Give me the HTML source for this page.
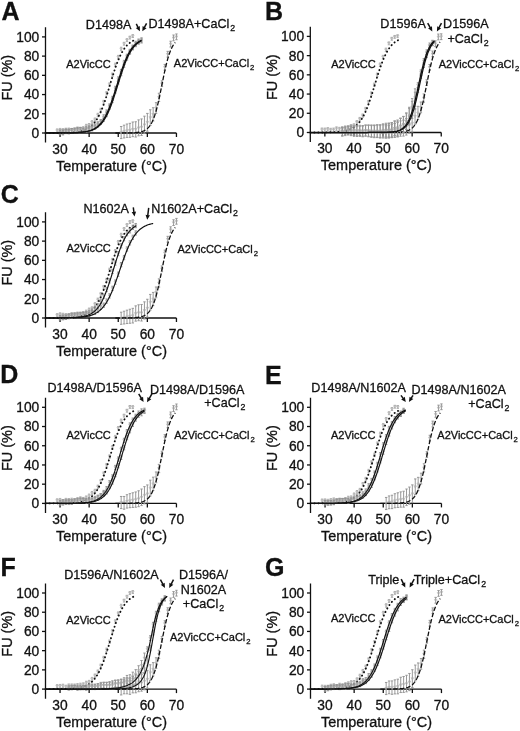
<!DOCTYPE html>
<html><head><meta charset="utf-8"><style>
html,body{margin:0;padding:0;background:#fff;}
svg{display:block;will-change:transform;filter:blur(0.3px);}
text{font-family:"Liberation Sans", sans-serif;fill:#111;stroke:#111;stroke-width:0.3px;}
.ax{stroke:#111;stroke-width:1.3;fill:none;}
.tk{font-size:13.8px;}
.al{font-size:14.45px;}
.pl{font-size:25px;font-weight:bold;}
.an{font-size:12.6px;}
.sm{font-size:11px;}
.sub{font-size:0.7em;}
.dot{fill:none;stroke:#111;stroke-width:1.9;stroke-dasharray:0.2 3.8;stroke-linecap:round;}
.dash{fill:none;stroke:#111;stroke-width:1.3;stroke-dasharray:4.5 2;}
.sol{fill:none;stroke:#111;stroke-width:1.15;}
.sol2{fill:none;stroke:#111;stroke-width:1.25;}
.eb{fill:none;stroke:#939393;stroke-width:0.95;}
.ebw{fill:none;stroke:#a8a8a8;stroke-width:0.85;}
.mk{fill:none;stroke:#aaa;stroke-width:0.6;}
.arl{stroke:#111;stroke-width:1.5;fill:none;}
.arh{fill:#111;}
</style></head><body>
<svg width="520" height="731" viewBox="0 0 520 731">
<g transform="translate(0,0)">
<text x="1.5" y="20" class="pl">A</text>
<g transform="translate(0,0)"><path d="M45.5 27.29V142.61M45.5 133.0H176.45" class="ax"/>
<path d="M42.0 133.00H45.5" class="ax"/>
<text x="39.3" y="137.90" class="tk" text-anchor="end">0</text>
<path d="M42.0 113.78H45.5" class="ax"/>
<text x="39.3" y="118.68" class="tk" text-anchor="end">20</text>
<path d="M42.0 94.56H45.5" class="ax"/>
<text x="39.3" y="99.46" class="tk" text-anchor="end">40</text>
<path d="M42.0 75.34H45.5" class="ax"/>
<text x="39.3" y="80.24" class="tk" text-anchor="end">60</text>
<path d="M42.0 56.12H45.5" class="ax"/>
<text x="39.3" y="61.02" class="tk" text-anchor="end">80</text>
<path d="M42.0 36.90H45.5" class="ax"/>
<text x="39.3" y="41.80" class="tk" text-anchor="end">100</text>
<path d="M60.05 133.0V137.0" class="ax"/>
<text x="60.05" y="153.7" class="tk" text-anchor="middle">30</text>
<path d="M89.15 133.0V137.0" class="ax"/>
<text x="89.15" y="153.7" class="tk" text-anchor="middle">40</text>
<path d="M118.25 133.0V137.0" class="ax"/>
<text x="118.25" y="153.7" class="tk" text-anchor="middle">50</text>
<path d="M147.35 133.0V137.0" class="ax"/>
<text x="147.35" y="153.7" class="tk" text-anchor="middle">60</text>
<path d="M176.45 133.0V137.0" class="ax"/>
<text x="176.45" y="153.7" class="tk" text-anchor="middle">70</text>
<text x="111.5" y="170.5" class="al" text-anchor="middle">Temperature (°C)</text>
<text transform="translate(11.8,77.7) rotate(-90)" class="al" text-anchor="middle">FU (%)</text>
<path d="M57.14 128.92V132.38M55.94 128.92h2.4M55.94 132.38h2.4M60.05 128.41V131.87M58.85 128.41h2.4M58.85 131.87h2.4M62.96 128.63V132.09M61.76 128.63h2.4M61.76 132.09h2.4M65.87 128.20V131.66M64.67 128.20h2.4M64.67 131.66h2.4M68.78 128.06V131.52M67.58 128.06h2.4M67.58 131.52h2.4M71.69 128.76V132.22M70.49 128.76h2.4M70.49 132.22h2.4M74.60 128.60V132.06M73.40 128.60h2.4M73.40 132.06h2.4M77.51 126.98V130.44M76.31 126.98h2.4M76.31 130.44h2.4M80.42 127.35V130.81M79.22 127.35h2.4M79.22 130.81h2.4M83.33 126.63V130.08M82.13 126.63h2.4M82.13 130.08h2.4M86.24 124.34V127.80M85.04 124.34h2.4M85.04 127.80h2.4M89.15 123.52V126.98M87.95 123.52h2.4M87.95 126.98h2.4M92.06 120.65V124.11M90.86 120.65h2.4M90.86 124.11h2.4M94.97 117.97V121.43M93.77 117.97h2.4M93.77 121.43h2.4M97.88 113.32V116.78M96.68 113.32h2.4M96.68 116.78h2.4M100.79 108.31V111.77M99.59 108.31h2.4M99.59 111.77h2.4M103.70 100.37V103.83M102.50 100.37h2.4M102.50 103.83h2.4M106.61 91.57V95.03M105.41 91.57h2.4M105.41 95.03h2.4M109.52 82.87V86.33M108.32 82.87h2.4M108.32 86.33h2.4M112.43 73.02V76.48M111.23 73.02h2.4M111.23 76.48h2.4M115.34 63.14V66.60M114.14 63.14h2.4M114.14 66.60h2.4M118.25 55.39V58.85M117.05 55.39h2.4M117.05 58.85h2.4M121.16 47.24V50.70M119.96 47.24h2.4M119.96 50.70h2.4M124.07 42.31V45.19M122.87 42.31h2.4M122.87 45.19h2.4M126.98 38.69V41.57M125.78 38.69h2.4M125.78 41.57h2.4M129.89 36.17V39.06M128.69 36.17h2.4M128.69 39.06h2.4M132.80 34.61V37.49M131.60 34.61h2.4M131.60 37.49h2.4" class="ebw"/><path d="M55.84 129.75h2.6l-1.3 2.2zM58.75 129.24h2.6l-1.3 2.2zM61.66 129.46h2.6l-1.3 2.2zM64.57 129.03h2.6l-1.3 2.2zM67.48 128.89h2.6l-1.3 2.2zM70.39 129.59h2.6l-1.3 2.2zM73.30 129.43h2.6l-1.3 2.2zM76.21 127.81h2.6l-1.3 2.2zM79.12 128.18h2.6l-1.3 2.2zM82.03 127.46h2.6l-1.3 2.2zM84.94 125.17h2.6l-1.3 2.2zM87.85 124.35h2.6l-1.3 2.2zM90.76 121.48h2.6l-1.3 2.2zM93.67 118.80h2.6l-1.3 2.2zM96.58 114.15h2.6l-1.3 2.2zM99.49 109.14h2.6l-1.3 2.2zM102.40 101.20h2.6l-1.3 2.2zM105.31 92.40h2.6l-1.3 2.2zM108.22 83.70h2.6l-1.3 2.2zM111.13 73.85h2.6l-1.3 2.2zM114.04 63.97h2.6l-1.3 2.2zM116.95 56.22h2.6l-1.3 2.2zM119.86 48.07h2.6l-1.3 2.2zM122.77 42.85h2.6l-1.3 2.2zM125.68 39.23h2.6l-1.3 2.2zM128.59 36.71h2.6l-1.3 2.2zM131.50 35.15h2.6l-1.3 2.2z" class="mk"/>
<path d="M121.16 126.49V138.60M119.96 126.49h2.4M119.96 138.60h2.4M124.07 125.20V137.94M122.87 125.20h2.4M122.87 137.94h2.4M126.98 124.03V137.41M125.78 124.03h2.4M125.78 137.41h2.4M129.89 123.33V137.34M128.69 123.33h2.4M128.69 137.34h2.4M132.80 122.02V136.66M131.60 122.02h2.4M131.60 136.66h2.4M135.71 121.75V137.03M134.51 121.75h2.4M134.51 137.03h2.4M138.62 119.89V135.81M137.42 119.89h2.4M137.42 135.81h2.4M141.53 118.93V135.48M140.33 118.93h2.4M140.33 135.48h2.4M144.44 116.18V133.36M143.24 116.18h2.4M143.24 133.36h2.4M147.35 113.41V131.23M146.15 113.41h2.4M146.15 131.23h2.4M150.26 109.75V125.51M149.06 109.75h2.4M149.06 125.51h2.4M153.17 107.74V121.00M151.97 107.74h2.4M151.97 121.00h2.4M156.08 102.65V113.42M154.88 102.65h2.4M154.88 113.42h2.4M158.99 93.27V101.54M157.79 93.27h2.4M157.79 101.54h2.4M161.90 80.82V86.59M160.70 80.82h2.4M160.70 86.59h2.4M164.81 64.42V70.18M163.61 64.42h2.4M163.61 70.18h2.4M167.72 51.37V57.14M166.52 51.37h2.4M166.52 57.14h2.4M170.63 41.23V47.00M169.43 41.23h2.4M169.43 47.00h2.4M173.54 35.03V40.80M172.34 35.03h2.4M172.34 40.80h2.4M176.45 33.96V39.72M175.25 33.96h2.4M175.25 39.72h2.4" class="eb"/><path d="M119.86 131.64h2.6l-1.3 2.2zM122.77 130.67h2.6l-1.3 2.2zM125.68 129.82h2.6l-1.3 2.2zM128.59 129.44h2.6l-1.3 2.2zM131.50 128.44h2.6l-1.3 2.2zM134.41 128.49h2.6l-1.3 2.2zM137.32 126.95h2.6l-1.3 2.2zM140.23 126.31h2.6l-1.3 2.2zM143.14 123.87h2.6l-1.3 2.2zM146.05 121.42h2.6l-1.3 2.2zM148.96 116.73h2.6l-1.3 2.2zM151.87 113.47h2.6l-1.3 2.2zM154.78 107.13h2.6l-1.3 2.2zM157.69 96.50h2.6l-1.3 2.2zM160.60 82.80h2.6l-1.3 2.2zM163.51 66.40h2.6l-1.3 2.2zM166.42 53.36h2.6l-1.3 2.2zM169.33 43.22h2.6l-1.3 2.2zM172.24 37.01h2.6l-1.3 2.2zM175.15 35.94h2.6l-1.3 2.2z" class="mk"/>
<polyline points="45.50,132.99 46.23,132.98 46.95,132.98 47.68,132.98 48.41,132.98 49.14,132.98 49.87,132.98 50.59,132.97 51.32,132.97 52.05,132.97 52.77,132.96 53.50,132.96 54.23,132.95 54.96,132.95 55.69,132.94 56.41,132.94 57.14,132.93 57.87,132.93 58.59,132.92 59.32,132.91 60.05,132.90 60.78,132.89 61.51,132.88 62.23,132.86 62.96,132.85 63.69,132.83 64.41,132.82 65.14,132.80 65.87,132.78 66.60,132.75 67.33,132.73 68.05,132.70 68.78,132.67 69.51,132.63 70.23,132.59 70.96,132.55 71.69,132.50 72.42,132.45 73.15,132.39 73.87,132.33 74.60,132.26 75.33,132.18 76.06,132.10 76.78,132.01 77.51,131.90 78.24,131.79 78.97,131.66 79.69,131.52 80.42,131.37 81.15,131.20 81.88,131.02 82.60,130.81 83.33,130.59 84.06,130.34 84.78,130.07 85.51,129.77 86.24,129.45 86.97,129.09 87.69,128.70 88.42,128.27 89.15,127.79 89.88,127.28 90.61,126.72 91.33,126.10 92.06,125.44 92.79,124.71 93.52,123.92 94.24,123.06 94.97,122.14 95.70,121.13 96.43,120.06 97.15,118.89 97.88,117.65 98.61,116.31 99.34,114.89 100.06,113.37 100.79,111.76 101.52,110.06 102.25,108.27 102.97,106.39 103.70,104.43 104.43,102.38 105.16,100.25 105.88,98.06 106.61,95.81 107.34,93.51 108.06,91.16 108.79,88.79 109.52,86.39 110.25,83.99 110.98,81.59 111.70,79.21 112.43,76.86 113.16,74.55 113.89,72.28 114.61,70.08 115.34,67.94 116.07,65.88 116.80,63.89 117.52,62.00 118.25,60.19 118.98,58.47 119.70,56.84 120.43,55.31 121.16,53.87 121.89,52.51 122.62,51.25 123.34,50.07 124.07,48.97 124.80,47.96 125.53,47.02 126.25,46.15 126.98,45.34 127.71,44.60 128.44,43.93 129.16,43.30 129.89,42.73 130.62,42.20 131.34,41.73 132.07,41.29 132.80,40.89 133.53,40.52 134.25,40.19 134.98,39.89 135.13,39.83" class="dot"/>
<polyline points="115.34,132.99 116.07,132.99 116.80,132.99 117.52,132.99 118.25,132.99 118.98,132.99 119.70,132.99 120.43,132.98 121.16,132.98 121.89,132.98 122.62,132.97 123.34,132.97 124.07,132.96 124.80,132.96 125.53,132.95 126.25,132.94 126.98,132.93 127.71,132.92 128.44,132.91 129.16,132.90 129.89,132.88 130.62,132.86 131.34,132.83 132.07,132.81 132.80,132.78 133.53,132.74 134.25,132.70 134.98,132.65 135.71,132.59 136.44,132.52 137.17,132.45 137.89,132.36 138.62,132.25 139.35,132.13 140.07,131.99 140.80,131.83 141.53,131.64 142.26,131.42 142.99,131.17 143.71,130.87 144.44,130.53 145.17,130.14 145.90,129.69 146.62,129.17 147.35,128.57 148.08,127.89 148.81,127.10 149.53,126.20 150.26,125.18 150.99,124.02 151.72,122.71 152.44,121.24 153.17,119.58 153.90,117.73 154.62,115.69 155.35,113.43 156.08,110.96 156.81,108.28 157.54,105.40 158.26,102.33 158.99,99.08 159.72,95.69 160.44,92.18 161.17,88.58 161.90,84.95 162.63,81.32 163.36,77.72 164.08,74.21 164.81,70.82 165.54,67.57 166.26,64.50 166.99,61.62 167.72,58.94 168.45,56.47 169.18,54.21 169.90,52.17 170.63,50.32 171.36,48.66 172.09,47.19 172.81,45.88 173.54,44.72 174.27,43.70 175.00,42.80 175.29,42.47" class="dash"/>
<path d="M60.05 130.18V134.41M58.85 130.18h2.4M58.85 134.41h2.4M62.96 129.90V134.13M61.76 129.90h2.4M61.76 134.13h2.4M65.87 129.11V133.34M64.67 129.11h2.4M64.67 133.34h2.4M68.78 129.14V133.37M67.58 129.14h2.4M67.58 133.37h2.4M71.69 128.43V132.66M70.49 128.43h2.4M70.49 132.66h2.4M74.60 128.18V132.40M73.40 128.18h2.4M73.40 132.40h2.4M77.51 127.56V131.78M76.31 127.56h2.4M76.31 131.78h2.4M80.42 127.83V132.06M79.22 127.83h2.4M79.22 132.06h2.4M83.33 128.29V132.52M82.13 128.29h2.4M82.13 132.52h2.4M86.24 126.74V130.97M85.04 126.74h2.4M85.04 130.97h2.4M89.15 125.89V130.12M87.95 125.89h2.4M87.95 130.12h2.4M92.06 124.97V129.20M90.86 124.97h2.4M90.86 129.20h2.4M94.97 124.04V128.27M93.77 124.04h2.4M93.77 128.27h2.4M97.88 121.75V125.98M96.68 121.75h2.4M96.68 125.98h2.4M100.79 119.64V123.87M99.59 119.64h2.4M99.59 123.87h2.4M103.70 114.75V118.98M102.50 114.75h2.4M102.50 118.98h2.4M106.61 109.95V114.18M105.41 109.95h2.4M105.41 114.18h2.4M109.52 103.83V108.05M108.32 103.83h2.4M108.32 108.05h2.4M112.43 96.31V100.54M111.23 96.31h2.4M111.23 100.54h2.4M115.34 86.28V90.51M114.14 86.28h2.4M114.14 90.51h2.4M118.25 76.89V81.12M117.05 76.89h2.4M117.05 81.12h2.4M121.16 69.40V73.63M119.96 69.40h2.4M119.96 73.63h2.4M124.07 60.33V64.56M122.87 60.33h2.4M122.87 64.56h2.4M126.98 54.23V58.46M125.78 54.23h2.4M125.78 58.46h2.4M129.89 49.30V53.52M128.69 49.30h2.4M128.69 53.52h2.4M132.80 45.02V49.25M131.60 45.02h2.4M131.60 49.25h2.4M135.71 41.31V45.54M134.51 41.31h2.4M134.51 45.54h2.4M138.62 39.02V43.24M137.42 39.02h2.4M137.42 43.24h2.4M141.53 38.79V43.01M140.33 38.79h2.4M140.33 43.01h2.4" class="eb"/><path d="M58.75 131.40h2.6l-1.3 2.2zM61.66 131.11h2.6l-1.3 2.2zM64.57 130.32h2.6l-1.3 2.2zM67.48 130.36h2.6l-1.3 2.2zM70.39 129.64h2.6l-1.3 2.2zM73.30 129.39h2.6l-1.3 2.2zM76.21 128.77h2.6l-1.3 2.2zM79.12 129.04h2.6l-1.3 2.2zM82.03 129.50h2.6l-1.3 2.2zM84.94 127.95h2.6l-1.3 2.2zM87.85 127.10h2.6l-1.3 2.2zM90.76 126.19h2.6l-1.3 2.2zM93.67 125.25h2.6l-1.3 2.2zM96.58 122.97h2.6l-1.3 2.2zM99.49 120.85h2.6l-1.3 2.2zM102.40 115.96h2.6l-1.3 2.2zM105.31 111.16h2.6l-1.3 2.2zM108.22 105.04h2.6l-1.3 2.2zM111.13 97.52h2.6l-1.3 2.2zM114.04 87.50h2.6l-1.3 2.2zM116.95 78.10h2.6l-1.3 2.2zM119.86 70.61h2.6l-1.3 2.2zM122.77 61.55h2.6l-1.3 2.2zM125.68 55.44h2.6l-1.3 2.2zM128.59 50.51h2.6l-1.3 2.2zM131.50 46.24h2.6l-1.3 2.2zM134.41 42.52h2.6l-1.3 2.2zM137.32 40.23h2.6l-1.3 2.2zM140.23 40.00h2.6l-1.3 2.2z" class="mk"/>
<path d="M60.05 130.14V134.37M58.85 130.14h2.4M58.85 134.37h2.4M62.96 130.73V134.96M61.76 130.73h2.4M61.76 134.96h2.4M65.87 129.41V133.63M64.67 129.41h2.4M64.67 133.63h2.4M68.78 129.70V133.92M67.58 129.70h2.4M67.58 133.92h2.4M71.69 128.53V132.75M70.49 128.53h2.4M70.49 132.75h2.4M74.60 128.02V132.25M73.40 128.02h2.4M73.40 132.25h2.4M77.51 128.35V132.58M76.31 128.35h2.4M76.31 132.58h2.4M80.42 127.40V131.63M79.22 127.40h2.4M79.22 131.63h2.4M83.33 128.17V132.40M82.13 128.17h2.4M82.13 132.40h2.4M86.24 128.11V132.34M85.04 128.11h2.4M85.04 132.34h2.4M89.15 126.68V130.91M87.95 126.68h2.4M87.95 130.91h2.4M92.06 126.66V130.89M90.86 126.66h2.4M90.86 130.89h2.4M94.97 125.10V129.33M93.77 125.10h2.4M93.77 129.33h2.4M97.88 122.92V127.15M96.68 122.92h2.4M96.68 127.15h2.4M100.79 119.99V124.22M99.59 119.99h2.4M99.59 124.22h2.4M103.70 117.09V121.32M102.50 117.09h2.4M102.50 121.32h2.4M106.61 112.47V116.70M105.41 112.47h2.4M105.41 116.70h2.4M109.52 105.04V109.27M108.32 105.04h2.4M108.32 109.27h2.4M112.43 98.40V102.63M111.23 98.40h2.4M111.23 102.63h2.4M115.34 88.83V93.06M114.14 88.83h2.4M114.14 93.06h2.4M118.25 79.79V84.02M117.05 79.79h2.4M117.05 84.02h2.4M121.16 71.55V75.77M119.96 71.55h2.4M119.96 75.77h2.4M124.07 63.12V67.35M122.87 63.12h2.4M122.87 67.35h2.4M126.98 55.93V60.15M125.78 55.93h2.4M125.78 60.15h2.4M129.89 50.00V54.22M128.69 50.00h2.4M128.69 54.22h2.4M132.80 45.65V49.88M131.60 45.65h2.4M131.60 49.88h2.4M135.71 42.43V46.66M134.51 42.43h2.4M134.51 46.66h2.4M138.62 39.97V44.20M137.42 39.97h2.4M137.42 44.20h2.4M141.53 37.80V42.03M140.33 37.80h2.4M140.33 42.03h2.4" class="eb"/><path d="M58.75 131.36h2.6l-1.3 2.2zM61.66 131.95h2.6l-1.3 2.2zM64.57 130.62h2.6l-1.3 2.2zM67.48 130.91h2.6l-1.3 2.2zM70.39 129.74h2.6l-1.3 2.2zM73.30 129.23h2.6l-1.3 2.2zM76.21 129.57h2.6l-1.3 2.2zM79.12 128.61h2.6l-1.3 2.2zM82.03 129.39h2.6l-1.3 2.2zM84.94 129.32h2.6l-1.3 2.2zM87.85 127.90h2.6l-1.3 2.2zM90.76 127.87h2.6l-1.3 2.2zM93.67 126.32h2.6l-1.3 2.2zM96.58 124.13h2.6l-1.3 2.2zM99.49 121.21h2.6l-1.3 2.2zM102.40 118.31h2.6l-1.3 2.2zM105.31 113.68h2.6l-1.3 2.2zM108.22 106.26h2.6l-1.3 2.2zM111.13 99.62h2.6l-1.3 2.2zM114.04 90.05h2.6l-1.3 2.2zM116.95 81.00h2.6l-1.3 2.2zM119.86 72.76h2.6l-1.3 2.2zM122.77 64.34h2.6l-1.3 2.2zM125.68 57.14h2.6l-1.3 2.2zM128.59 51.21h2.6l-1.3 2.2zM131.50 46.86h2.6l-1.3 2.2zM134.41 43.64h2.6l-1.3 2.2zM137.32 41.18h2.6l-1.3 2.2zM140.23 39.02h2.6l-1.3 2.2z" class="mk"/>
<polyline points="45.50,132.99 46.23,132.99 46.95,132.99 47.68,132.99 48.41,132.99 49.14,132.99 49.87,132.99 50.59,132.99 51.32,132.99 52.05,132.98 52.77,132.98 53.50,132.98 54.23,132.98 54.96,132.98 55.69,132.98 56.41,132.97 57.14,132.97 57.87,132.97 58.59,132.96 59.32,132.96 60.05,132.96 60.78,132.95 61.51,132.95 62.23,132.94 62.96,132.93 63.69,132.93 64.41,132.92 65.14,132.91 65.87,132.90 66.60,132.89 67.33,132.88 68.05,132.87 68.78,132.85 69.51,132.84 70.23,132.82 70.96,132.80 71.69,132.78 72.42,132.76 73.15,132.74 73.87,132.71 74.60,132.68 75.33,132.65 76.06,132.61 76.78,132.57 77.51,132.53 78.24,132.48 78.97,132.43 79.69,132.37 80.42,132.30 81.15,132.23 81.88,132.16 82.60,132.07 83.33,131.97 84.06,131.87 84.78,131.76 85.51,131.63 86.24,131.49 86.97,131.34 87.69,131.17 88.42,130.98 89.15,130.78 89.88,130.56 90.61,130.31 91.33,130.05 92.06,129.75 92.79,129.43 93.52,129.08 94.24,128.69 94.97,128.27 95.70,127.81 96.43,127.30 97.15,126.76 97.88,126.16 98.61,125.51 99.34,124.80 100.06,124.04 100.79,123.21 101.52,122.31 102.25,121.35 102.97,120.30 103.70,119.18 104.43,117.98 105.16,116.70 105.88,115.33 106.61,113.87 107.34,112.32 108.06,110.69 108.79,108.96 109.52,107.15 110.25,105.26 110.98,103.29 111.70,101.24 112.43,99.12 113.16,96.94 113.89,94.71 114.61,92.43 115.34,90.11 116.07,87.77 116.80,85.42 117.52,83.07 118.25,80.72 118.98,78.40 119.70,76.10 120.43,73.85 121.16,71.65 121.89,69.50 122.62,67.42 123.34,65.42 124.07,63.49 124.80,61.65 125.53,59.89 126.25,58.22 126.98,56.64 127.71,55.14 128.44,53.74 129.16,52.42 129.89,51.19 130.62,50.04 131.34,48.96 132.07,47.97 132.80,47.04 133.53,46.19 134.25,45.40 134.98,44.67 135.71,43.99 136.44,43.38 137.17,42.81 137.89,42.29 138.62,41.81 139.35,41.37 140.07,40.97 140.80,40.61 141.53,40.27" class="sol2"/>
<polyline points="45.50,132.99 46.23,132.99 46.95,132.99 47.68,132.99 48.41,132.99 49.14,132.99 49.87,132.99 50.59,132.99 51.32,132.99 52.05,132.99 52.77,132.98 53.50,132.98 54.23,132.98 54.96,132.98 55.69,132.98 56.41,132.98 57.14,132.97 57.87,132.97 58.59,132.97 59.32,132.96 60.05,132.96 60.78,132.96 61.51,132.95 62.23,132.95 62.96,132.94 63.69,132.93 64.41,132.93 65.14,132.92 65.87,132.91 66.60,132.90 67.33,132.89 68.05,132.88 68.78,132.87 69.51,132.86 70.23,132.84 70.96,132.83 71.69,132.81 72.42,132.79 73.15,132.77 73.87,132.74 74.60,132.72 75.33,132.69 76.06,132.66 76.78,132.62 77.51,132.58 78.24,132.54 78.97,132.49 79.69,132.44 80.42,132.38 81.15,132.32 81.88,132.25 82.60,132.17 83.33,132.09 84.06,131.99 84.78,131.89 85.51,131.78 86.24,131.66 86.97,131.52 87.69,131.37 88.42,131.20 89.15,131.02 89.88,130.82 90.61,130.60 91.33,130.36 92.06,130.10 92.79,129.81 93.52,129.50 94.24,129.15 94.97,128.77 95.70,128.36 96.43,127.90 97.15,127.41 97.88,126.87 98.61,126.28 99.34,125.64 100.06,124.95 100.79,124.20 101.52,123.38 102.25,122.50 102.97,121.54 103.70,120.52 104.43,119.41 105.16,118.23 105.88,116.96 106.61,115.61 107.34,114.17 108.06,112.64 108.79,111.02 109.52,109.32 110.25,107.52 110.98,105.65 111.70,103.69 112.43,101.65 113.16,99.55 113.89,97.38 114.61,95.16 115.34,92.88 116.07,90.58 116.80,88.24 117.52,85.89 118.25,83.54 118.98,81.19 119.70,78.86 120.43,76.56 121.16,74.30 121.89,72.08 122.62,69.93 123.34,67.83 124.07,65.81 124.80,63.87 125.53,62.01 126.25,60.24 126.98,58.55 127.71,56.95 128.44,55.44 129.16,54.01 129.89,52.68 130.62,51.43 131.34,50.26 132.07,49.17 132.80,48.16 133.53,47.22 134.25,46.35 134.98,45.55 135.71,44.81 136.44,44.12 137.17,43.50 137.89,42.92 138.62,42.39 139.35,41.90 140.07,41.46 140.80,41.05 141.53,40.68" class="sol2"/></g>
<text x="85.8" y="28.5" class="an" text-anchor="start">D1498A</text>
<path d="M136.30 23.90L138.24 27.88" class="arl"/><path d="M139.90 31.30L135.78 27.97L137.89 27.16L139.82 26.00Z" class="arh"/>
<path d="M146.60 23.40L144.12 27.96" class="arl"/><path d="M142.30 31.30L142.62 26.01L144.50 27.26L146.57 28.16Z" class="arh"/>
<text x="148.5" y="28.3" class="an" text-anchor="start">D1498A+CaCl<tspan class="sub" dy="3" dx="1">2</tspan></text>
<text x="66.2" y="67.5" class="sm" text-anchor="start">A2VicCC</text>
<text x="173.8" y="67.4" class="sm" text-anchor="start">A2VicCC+CaCl<tspan class="sub" dy="3" dx="1">2</tspan></text>
</g>
<g transform="translate(264.8,-0.5)">
<text x="0.10000000000000009" y="20" class="pl">B</text>
<g transform="translate(0,0)"><path d="M45.5 27.29V142.61M45.5 133.0H176.45" class="ax"/>
<path d="M42.0 133.00H45.5" class="ax"/>
<text x="39.3" y="137.90" class="tk" text-anchor="end">0</text>
<path d="M42.0 113.78H45.5" class="ax"/>
<text x="39.3" y="118.68" class="tk" text-anchor="end">20</text>
<path d="M42.0 94.56H45.5" class="ax"/>
<text x="39.3" y="99.46" class="tk" text-anchor="end">40</text>
<path d="M42.0 75.34H45.5" class="ax"/>
<text x="39.3" y="80.24" class="tk" text-anchor="end">60</text>
<path d="M42.0 56.12H45.5" class="ax"/>
<text x="39.3" y="61.02" class="tk" text-anchor="end">80</text>
<path d="M42.0 36.90H45.5" class="ax"/>
<text x="39.3" y="41.80" class="tk" text-anchor="end">100</text>
<path d="M60.05 133.0V137.0" class="ax"/>
<text x="60.05" y="153.7" class="tk" text-anchor="middle">30</text>
<path d="M89.15 133.0V137.0" class="ax"/>
<text x="89.15" y="153.7" class="tk" text-anchor="middle">40</text>
<path d="M118.25 133.0V137.0" class="ax"/>
<text x="118.25" y="153.7" class="tk" text-anchor="middle">50</text>
<path d="M147.35 133.0V137.0" class="ax"/>
<text x="147.35" y="153.7" class="tk" text-anchor="middle">60</text>
<path d="M176.45 133.0V137.0" class="ax"/>
<text x="176.45" y="153.7" class="tk" text-anchor="middle">70</text>
<text x="111.5" y="170.5" class="al" text-anchor="middle">Temperature (°C)</text>
<text transform="translate(11.8,77.7) rotate(-90)" class="al" text-anchor="middle">FU (%)</text>
<path d="M57.14 128.50V131.96M55.94 128.50h2.4M55.94 131.96h2.4M60.05 128.59V132.05M58.85 128.59h2.4M58.85 132.05h2.4M62.96 128.10V131.56M61.76 128.10h2.4M61.76 131.56h2.4M65.87 128.77V132.23M64.67 128.77h2.4M64.67 132.23h2.4M68.78 128.56V132.02M67.58 128.56h2.4M67.58 132.02h2.4M71.69 127.37V130.83M70.49 127.37h2.4M70.49 130.83h2.4M74.60 127.84V131.30M73.40 127.84h2.4M73.40 131.30h2.4M77.51 127.45V130.91M76.31 127.45h2.4M76.31 130.91h2.4M80.42 127.76V131.22M79.22 127.76h2.4M79.22 131.22h2.4M83.33 126.39V129.85M82.13 126.39h2.4M82.13 129.85h2.4M86.24 125.04V128.50M85.04 125.04h2.4M85.04 128.50h2.4M89.15 124.31V127.77M87.95 124.31h2.4M87.95 127.77h2.4M92.06 121.12V124.58M90.86 121.12h2.4M90.86 124.58h2.4M94.97 117.92V121.38M93.77 117.92h2.4M93.77 121.38h2.4M97.88 114.46V117.92M96.68 114.46h2.4M96.68 117.92h2.4M100.79 107.90V111.35M99.59 107.90h2.4M99.59 111.35h2.4M103.70 101.02V104.48M102.50 101.02h2.4M102.50 104.48h2.4M106.61 92.30V95.76M105.41 92.30h2.4M105.41 95.76h2.4M109.52 83.60V87.06M108.32 83.60h2.4M108.32 87.06h2.4M112.43 73.60V77.05M111.23 73.60h2.4M111.23 77.05h2.4M115.34 63.51V66.97M114.14 63.51h2.4M114.14 66.97h2.4M118.25 55.85V59.31M117.05 55.85h2.4M117.05 59.31h2.4M121.16 48.63V52.09M119.96 48.63h2.4M119.96 52.09h2.4M124.07 42.42V45.30M122.87 42.42h2.4M122.87 45.30h2.4M126.98 37.84V40.73M125.78 37.84h2.4M125.78 40.73h2.4M129.89 35.96V38.84M128.69 35.96h2.4M128.69 38.84h2.4M132.80 35.24V38.12M131.60 35.24h2.4M131.60 38.12h2.4" class="ebw"/><path d="M55.84 129.33h2.6l-1.3 2.2zM58.75 129.42h2.6l-1.3 2.2zM61.66 128.93h2.6l-1.3 2.2zM64.57 129.60h2.6l-1.3 2.2zM67.48 129.39h2.6l-1.3 2.2zM70.39 128.20h2.6l-1.3 2.2zM73.30 128.67h2.6l-1.3 2.2zM76.21 128.28h2.6l-1.3 2.2zM79.12 128.59h2.6l-1.3 2.2zM82.03 127.22h2.6l-1.3 2.2zM84.94 125.87h2.6l-1.3 2.2zM87.85 125.14h2.6l-1.3 2.2zM90.76 121.95h2.6l-1.3 2.2zM93.67 118.75h2.6l-1.3 2.2zM96.58 115.29h2.6l-1.3 2.2zM99.49 108.72h2.6l-1.3 2.2zM102.40 101.85h2.6l-1.3 2.2zM105.31 93.13h2.6l-1.3 2.2zM108.22 84.43h2.6l-1.3 2.2zM111.13 74.43h2.6l-1.3 2.2zM114.04 64.34h2.6l-1.3 2.2zM116.95 56.68h2.6l-1.3 2.2zM119.86 49.46h2.6l-1.3 2.2zM122.77 42.96h2.6l-1.3 2.2zM125.68 38.38h2.6l-1.3 2.2zM128.59 36.50h2.6l-1.3 2.2zM131.50 35.78h2.6l-1.3 2.2z" class="mk"/>
<path d="M121.16 126.30V138.41M119.96 126.30h2.4M119.96 138.41h2.4M124.07 125.81V138.55M122.87 125.81h2.4M122.87 138.55h2.4M126.98 124.82V138.20M125.78 124.82h2.4M125.78 138.20h2.4M129.89 123.95V137.96M128.69 123.95h2.4M128.69 137.96h2.4M132.80 122.87V137.51M131.60 122.87h2.4M131.60 137.51h2.4M135.71 121.44V136.72M134.51 121.44h2.4M134.51 136.72h2.4M138.62 120.66V136.58M137.42 120.66h2.4M137.42 136.58h2.4M141.53 119.04V135.58M140.33 119.04h2.4M140.33 135.58h2.4M144.44 116.43V133.61M143.24 116.43h2.4M143.24 133.61h2.4M147.35 114.72V132.54M146.15 114.72h2.4M146.15 132.54h2.4M150.26 109.03V124.79M149.06 109.03h2.4M149.06 124.79h2.4M153.17 106.82V120.08M151.97 106.82h2.4M151.97 120.08h2.4M156.08 102.51V113.27M154.88 102.51h2.4M154.88 113.27h2.4M158.99 94.41V102.68M157.79 94.41h2.4M157.79 102.68h2.4M161.90 80.25V86.02M160.70 80.25h2.4M160.70 86.02h2.4M164.81 65.01V70.78M163.61 65.01h2.4M163.61 70.78h2.4M167.72 51.55V57.31M166.52 51.55h2.4M166.52 57.31h2.4M170.63 41.34V47.11M169.43 41.34h2.4M169.43 47.11h2.4M173.54 34.55V40.32M172.34 34.55h2.4M172.34 40.32h2.4M176.45 34.34V40.11M175.25 34.34h2.4M175.25 40.11h2.4" class="eb"/><path d="M119.86 131.46h2.6l-1.3 2.2zM122.77 131.28h2.6l-1.3 2.2zM125.68 130.61h2.6l-1.3 2.2zM128.59 130.06h2.6l-1.3 2.2zM131.50 129.29h2.6l-1.3 2.2zM134.41 128.18h2.6l-1.3 2.2zM137.32 127.72h2.6l-1.3 2.2zM140.23 126.41h2.6l-1.3 2.2zM143.14 124.12h2.6l-1.3 2.2zM146.05 122.73h2.6l-1.3 2.2zM148.96 116.01h2.6l-1.3 2.2zM151.87 112.55h2.6l-1.3 2.2zM154.78 106.99h2.6l-1.3 2.2zM157.69 97.65h2.6l-1.3 2.2zM160.60 82.24h2.6l-1.3 2.2zM163.51 67.00h2.6l-1.3 2.2zM166.42 53.53h2.6l-1.3 2.2zM169.33 43.33h2.6l-1.3 2.2zM172.24 36.53h2.6l-1.3 2.2zM175.15 36.32h2.6l-1.3 2.2z" class="mk"/>
<polyline points="45.50,132.99 46.23,132.99 46.95,132.98 47.68,132.98 48.41,132.98 49.14,132.98 49.87,132.98 50.59,132.97 51.32,132.97 52.05,132.97 52.77,132.96 53.50,132.96 54.23,132.96 54.96,132.95 55.69,132.95 56.41,132.94 57.14,132.93 57.87,132.93 58.59,132.92 59.32,132.91 60.05,132.90 60.78,132.89 61.51,132.88 62.23,132.87 62.96,132.85 63.69,132.84 64.41,132.82 65.14,132.80 65.87,132.78 66.60,132.76 67.33,132.73 68.05,132.70 68.78,132.67 69.51,132.64 70.23,132.60 70.96,132.56 71.69,132.51 72.42,132.46 73.15,132.41 73.87,132.34 74.60,132.28 75.33,132.20 76.06,132.12 76.78,132.02 77.51,131.92 78.24,131.81 78.97,131.69 79.69,131.55 80.42,131.40 81.15,131.24 81.88,131.06 82.60,130.86 83.33,130.64 84.06,130.39 84.78,130.13 85.51,129.84 86.24,129.52 86.97,129.16 87.69,128.78 88.42,128.35 89.15,127.89 89.88,127.39 90.61,126.83 91.33,126.23 92.06,125.57 92.79,124.86 93.52,124.08 94.24,123.24 94.97,122.33 95.70,121.34 96.43,120.28 97.15,119.13 97.88,117.90 98.61,116.59 99.34,115.18 100.06,113.68 100.79,112.09 101.52,110.41 102.25,108.64 102.97,106.78 103.70,104.83 104.43,102.79 105.16,100.69 105.88,98.51 106.61,96.27 107.34,93.97 108.06,91.63 108.79,89.26 109.52,86.87 110.25,84.47 110.98,82.07 111.70,79.69 112.43,77.33 113.16,75.01 113.89,72.73 114.61,70.51 115.34,68.36 116.07,66.28 116.80,64.28 117.52,62.37 118.25,60.54 118.98,58.80 119.70,57.16 120.43,55.61 121.16,54.15 121.89,52.78 122.62,51.49 123.34,50.30 124.07,49.19 124.80,48.16 125.53,47.20 126.25,46.31 126.98,45.50 127.71,44.75 128.44,44.06 129.16,43.42 129.89,42.84 130.62,42.31 131.34,41.82 132.07,41.37 132.80,40.96 133.53,40.59 134.25,40.25 134.98,39.94 135.13,39.89" class="dot"/>
<polyline points="115.34,132.99 116.07,132.99 116.80,132.99 117.52,132.99 118.25,132.99 118.98,132.99 119.70,132.99 120.43,132.98 121.16,132.98 121.89,132.98 122.62,132.97 123.34,132.97 124.07,132.96 124.80,132.96 125.53,132.95 126.25,132.94 126.98,132.93 127.71,132.92 128.44,132.91 129.16,132.90 129.89,132.88 130.62,132.86 131.34,132.83 132.07,132.81 132.80,132.78 133.53,132.74 134.25,132.70 134.98,132.65 135.71,132.59 136.44,132.52 137.17,132.45 137.89,132.36 138.62,132.25 139.35,132.13 140.07,131.99 140.80,131.83 141.53,131.64 142.26,131.42 142.99,131.17 143.71,130.87 144.44,130.53 145.17,130.14 145.90,129.69 146.62,129.17 147.35,128.57 148.08,127.89 148.81,127.10 149.53,126.20 150.26,125.18 150.99,124.02 151.72,122.71 152.44,121.24 153.17,119.58 153.90,117.73 154.62,115.69 155.35,113.43 156.08,110.96 156.81,108.28 157.54,105.40 158.26,102.33 158.99,99.08 159.72,95.69 160.44,92.18 161.17,88.58 161.90,84.95 162.63,81.32 163.36,77.72 164.08,74.21 164.81,70.82 165.54,67.57 166.26,64.50 166.99,61.62 167.72,58.94 168.45,56.47 169.18,54.21 169.90,52.17 170.63,50.32 171.36,48.66 172.09,47.19 172.81,45.88 173.54,44.72 174.27,43.70 175.00,42.80 175.29,42.47" class="dash"/>
<path d="M77.51 127.51V136.16M76.31 127.51h2.4M76.31 136.16h2.4M80.42 127.49V136.14M79.22 127.49h2.4M79.22 136.14h2.4M83.33 126.72V135.37M82.13 126.72h2.4M82.13 135.37h2.4M86.24 127.14V136.17M85.04 127.14h2.4M85.04 136.17h2.4M89.15 126.30V135.72M87.95 126.30h2.4M87.95 135.72h2.4M92.06 127.17V136.97M90.86 127.17h2.4M90.86 136.97h2.4M94.97 126.72V136.90M93.77 126.72h2.4M93.77 136.90h2.4M97.88 126.04V136.61M96.68 126.04h2.4M96.68 136.61h2.4M100.79 125.49V136.44M99.59 125.49h2.4M99.59 136.44h2.4M103.70 125.96V137.30M102.50 125.96h2.4M102.50 137.30h2.4M106.61 126.11V137.83M105.41 126.11h2.4M105.41 137.83h2.4M109.52 126.07V138.18M108.32 126.07h2.4M108.32 138.18h2.4M112.43 125.23V137.73M111.23 125.23h2.4M111.23 137.73h2.4M115.34 125.54V138.42M114.14 125.54h2.4M114.14 138.42h2.4M118.25 124.36V137.62M117.05 124.36h2.4M117.05 137.62h2.4M121.16 123.71V137.36M119.96 123.71h2.4M119.96 137.36h2.4M124.07 124.06V138.09M122.87 124.06h2.4M122.87 138.09h2.4M126.98 123.17V137.58M125.78 123.17h2.4M125.78 137.58h2.4M129.89 121.44V136.24M128.69 121.44h2.4M128.69 136.24h2.4M132.80 120.51V135.69M131.60 120.51h2.4M131.60 135.69h2.4M135.71 118.60V134.17M134.51 118.60h2.4M134.51 134.17h2.4M138.62 116.87V132.82M137.42 116.87h2.4M137.42 132.82h2.4M141.53 113.53V129.87M140.33 113.53h2.4M140.33 129.87h2.4M144.44 107.78V124.50M143.24 107.78h2.4M143.24 124.50h2.4M147.35 99.08V116.19M146.15 99.08h2.4M146.15 116.19h2.4M150.26 89.33V106.82M149.06 89.33h2.4M149.06 106.82h2.4M153.17 83.22V88.03M151.97 83.22h2.4M151.97 88.03h2.4M156.08 70.40V75.20M154.88 70.40h2.4M154.88 75.20h2.4M158.99 59.11V63.92M157.79 59.11h2.4M157.79 63.92h2.4M161.90 50.39V55.20M160.70 50.39h2.4M160.70 55.20h2.4M164.81 43.53V48.34M163.61 43.53h2.4M163.61 48.34h2.4M167.72 40.79V45.60M166.52 40.79h2.4M166.52 45.60h2.4" class="eb"/><path d="M76.21 130.93h2.6l-1.3 2.2zM79.12 130.91h2.6l-1.3 2.2zM82.03 130.15h2.6l-1.3 2.2zM84.94 130.75h2.6l-1.3 2.2zM87.85 130.11h2.6l-1.3 2.2zM90.76 131.17h2.6l-1.3 2.2zM93.67 130.91h2.6l-1.3 2.2zM96.58 130.43h2.6l-1.3 2.2zM99.49 130.06h2.6l-1.3 2.2zM102.40 130.73h2.6l-1.3 2.2zM105.31 131.07h2.6l-1.3 2.2zM108.22 131.22h2.6l-1.3 2.2zM111.13 130.58h2.6l-1.3 2.2zM114.04 131.08h2.6l-1.3 2.2zM116.95 130.09h2.6l-1.3 2.2zM119.86 129.63h2.6l-1.3 2.2zM122.77 130.18h2.6l-1.3 2.2zM125.68 129.47h2.6l-1.3 2.2zM128.59 127.94h2.6l-1.3 2.2zM131.50 127.20h2.6l-1.3 2.2zM134.41 125.48h2.6l-1.3 2.2zM137.32 123.95h2.6l-1.3 2.2zM140.23 120.80h2.6l-1.3 2.2zM143.14 115.24h2.6l-1.3 2.2zM146.05 106.73h2.6l-1.3 2.2zM148.96 97.17h2.6l-1.3 2.2zM151.87 84.72h2.6l-1.3 2.2zM154.78 71.90h2.6l-1.3 2.2zM157.69 60.61h2.6l-1.3 2.2zM160.60 51.89h2.6l-1.3 2.2zM163.51 45.03h2.6l-1.3 2.2zM166.42 42.30h2.6l-1.3 2.2z" class="mk"/>
<path d="M77.51 128.00V136.64M76.31 128.00h2.4M76.31 136.64h2.4M80.42 126.55V135.20M79.22 126.55h2.4M79.22 135.20h2.4M83.33 126.65V135.30M82.13 126.65h2.4M82.13 135.30h2.4M86.24 126.29V135.33M85.04 126.29h2.4M85.04 135.33h2.4M89.15 126.95V136.37M87.95 126.95h2.4M87.95 136.37h2.4M92.06 125.96V135.77M90.86 125.96h2.4M90.86 135.77h2.4M94.97 125.81V135.99M93.77 125.81h2.4M93.77 135.99h2.4M97.88 126.70V137.27M96.68 126.70h2.4M96.68 137.27h2.4M100.79 125.70V136.66M99.59 125.70h2.4M99.59 136.66h2.4M103.70 125.37V136.71M102.50 125.37h2.4M102.50 136.71h2.4M106.61 125.44V137.16M105.41 125.44h2.4M105.41 137.16h2.4M109.52 125.46V137.57M108.32 125.46h2.4M108.32 137.57h2.4M112.43 125.61V138.10M111.23 125.61h2.4M111.23 138.10h2.4M115.34 125.32V138.20M114.14 125.32h2.4M114.14 138.20h2.4M118.25 125.27V138.53M117.05 125.27h2.4M117.05 138.53h2.4M121.16 124.92V138.57M119.96 124.92h2.4M119.96 138.57h2.4M124.07 123.49V137.52M122.87 123.49h2.4M122.87 137.52h2.4M126.98 123.25V137.66M125.78 123.25h2.4M125.78 137.66h2.4M129.89 121.60V136.40M128.69 121.60h2.4M128.69 136.40h2.4M132.80 121.70V136.89M131.60 121.70h2.4M131.60 136.89h2.4M135.71 118.92V134.49M134.51 118.92h2.4M134.51 134.49h2.4M138.62 117.12V133.08M137.42 117.12h2.4M137.42 133.08h2.4M141.53 113.60V129.93M140.33 113.60h2.4M140.33 129.93h2.4M144.44 108.85V125.57M143.24 108.85h2.4M143.24 125.57h2.4M147.35 101.83V118.94M146.15 101.83h2.4M146.15 118.94h2.4M150.26 92.68V110.17M149.06 92.68h2.4M149.06 110.17h2.4M153.17 88.12V92.93M151.97 88.12h2.4M151.97 92.93h2.4M156.08 74.21V79.02M154.88 74.21h2.4M154.88 79.02h2.4M158.99 63.15V67.95M157.79 63.15h2.4M157.79 67.95h2.4M161.90 53.28V58.08M160.70 53.28h2.4M160.70 58.08h2.4M164.81 45.76V50.57M163.61 45.76h2.4M163.61 50.57h2.4M167.72 41.38V46.19M166.52 41.38h2.4M166.52 46.19h2.4" class="eb"/><path d="M76.21 131.42h2.6l-1.3 2.2zM79.12 129.98h2.6l-1.3 2.2zM82.03 130.07h2.6l-1.3 2.2zM84.94 129.91h2.6l-1.3 2.2zM87.85 130.76h2.6l-1.3 2.2zM90.76 129.97h2.6l-1.3 2.2zM93.67 130.00h2.6l-1.3 2.2zM96.58 131.08h2.6l-1.3 2.2zM99.49 130.28h2.6l-1.3 2.2zM102.40 130.14h2.6l-1.3 2.2zM105.31 130.40h2.6l-1.3 2.2zM108.22 130.61h2.6l-1.3 2.2zM111.13 130.96h2.6l-1.3 2.2zM114.04 130.86h2.6l-1.3 2.2zM116.95 131.00h2.6l-1.3 2.2zM119.86 130.85h2.6l-1.3 2.2zM122.77 129.61h2.6l-1.3 2.2zM125.68 129.55h2.6l-1.3 2.2zM128.59 128.10h2.6l-1.3 2.2zM131.50 128.39h2.6l-1.3 2.2zM134.41 125.80h2.6l-1.3 2.2zM137.32 124.20h2.6l-1.3 2.2zM140.23 120.86h2.6l-1.3 2.2zM143.14 116.31h2.6l-1.3 2.2zM146.05 109.48h2.6l-1.3 2.2zM148.96 100.53h2.6l-1.3 2.2zM151.87 89.62h2.6l-1.3 2.2zM154.78 75.71h2.6l-1.3 2.2zM157.69 64.65h2.6l-1.3 2.2zM160.60 54.78h2.6l-1.3 2.2zM163.51 47.26h2.6l-1.3 2.2zM166.42 42.89h2.6l-1.3 2.2z" class="mk"/>
<polyline points="45.50,133.00 46.23,133.00 46.95,133.00 47.68,133.00 48.41,133.00 49.14,133.00 49.87,133.00 50.59,133.00 51.32,133.00 52.05,133.00 52.77,133.00 53.50,133.00 54.23,133.00 54.96,133.00 55.69,133.00 56.41,133.00 57.14,133.00 57.87,133.00 58.59,133.00 59.32,133.00 60.05,133.00 60.78,133.00 61.51,133.00 62.23,133.00 62.96,133.00 63.69,133.00 64.41,133.00 65.14,133.00 65.87,133.00 66.60,133.00 67.33,133.00 68.05,133.00 68.78,133.00 69.51,133.00 70.23,133.00 70.96,133.00 71.69,133.00 72.42,133.00 73.15,133.00 73.87,133.00 74.60,133.00 75.33,133.00 76.06,133.00 76.78,133.00 77.51,133.00 78.24,133.00 78.97,133.00 79.69,133.00 80.42,133.00 81.15,133.00 81.88,133.00 82.60,133.00 83.33,133.00 84.06,133.00 84.78,133.00 85.51,133.00 86.24,133.00 86.97,133.00 87.69,133.00 88.42,133.00 89.15,133.00 89.88,133.00 90.61,133.00 91.33,133.00 92.06,133.00 92.79,133.00 93.52,133.00 94.24,133.00 94.97,133.00 95.70,133.00 96.43,133.00 97.15,133.00 97.88,133.00 98.61,133.00 99.34,133.00 100.06,133.00 100.79,133.00 101.52,133.00 102.25,133.00 102.97,132.99 103.70,132.99 104.43,132.99 105.16,132.99 105.88,132.99 106.61,132.99 107.34,132.99 108.06,132.99 108.79,132.98 109.52,132.98 110.25,132.98 110.98,132.98 111.70,132.97 112.43,132.97 113.16,132.96 113.89,132.96 114.61,132.95 115.34,132.94 116.07,132.94 116.80,132.93 117.52,132.91 118.25,132.90 118.98,132.89 119.70,132.87 120.43,132.85 121.16,132.83 121.89,132.80 122.62,132.77 123.34,132.74 124.07,132.70 124.80,132.65 125.53,132.60 126.25,132.54 126.98,132.47 127.71,132.39 128.44,132.30 129.16,132.20 129.89,132.08 130.62,131.94 131.34,131.78 132.07,131.60 132.80,131.39 133.53,131.15 134.25,130.88 134.98,130.57 135.71,130.21 136.44,129.81 137.17,129.34 137.89,128.82 138.62,128.22 139.35,127.54 140.07,126.77 140.80,125.90 141.53,124.92 142.26,123.81 142.99,122.58 143.71,121.20 144.44,119.67 145.17,117.97 145.90,116.10 146.62,114.06 147.35,111.83 148.08,109.42 148.81,106.84 149.53,104.08 150.26,101.16 150.99,98.10 151.72,94.93 152.44,91.65 153.17,88.32 153.90,84.95 154.62,81.58 155.35,78.25 156.08,74.97 156.81,71.80 157.54,68.74 158.26,65.82 158.99,63.06 159.72,60.48 160.44,58.07 161.17,55.84 161.90,53.80 162.63,51.93 163.36,50.23 164.08,48.70 164.81,47.32 165.54,46.09 166.26,44.98 166.99,44.00 167.72,43.13 168.45,42.36 169.18,41.68 169.76,41.20" class="sol2"/>
<polyline points="45.50,133.00 46.23,133.00 46.95,133.00 47.68,133.00 48.41,133.00 49.14,133.00 49.87,133.00 50.59,133.00 51.32,133.00 52.05,133.00 52.77,133.00 53.50,133.00 54.23,133.00 54.96,133.00 55.69,133.00 56.41,133.00 57.14,133.00 57.87,133.00 58.59,133.00 59.32,133.00 60.05,133.00 60.78,133.00 61.51,133.00 62.23,133.00 62.96,133.00 63.69,133.00 64.41,133.00 65.14,133.00 65.87,133.00 66.60,133.00 67.33,133.00 68.05,133.00 68.78,133.00 69.51,133.00 70.23,133.00 70.96,133.00 71.69,133.00 72.42,133.00 73.15,133.00 73.87,133.00 74.60,133.00 75.33,133.00 76.06,133.00 76.78,133.00 77.51,133.00 78.24,133.00 78.97,133.00 79.69,133.00 80.42,133.00 81.15,133.00 81.88,133.00 82.60,133.00 83.33,133.00 84.06,133.00 84.78,133.00 85.51,133.00 86.24,133.00 86.97,133.00 87.69,133.00 88.42,133.00 89.15,133.00 89.88,133.00 90.61,133.00 91.33,133.00 92.06,133.00 92.79,133.00 93.52,133.00 94.24,133.00 94.97,133.00 95.70,133.00 96.43,133.00 97.15,133.00 97.88,133.00 98.61,133.00 99.34,133.00 100.06,133.00 100.79,133.00 101.52,133.00 102.25,133.00 102.97,133.00 103.70,133.00 104.43,132.99 105.16,132.99 105.88,132.99 106.61,132.99 107.34,132.99 108.06,132.99 108.79,132.99 109.52,132.98 110.25,132.98 110.98,132.98 111.70,132.98 112.43,132.97 113.16,132.97 113.89,132.97 114.61,132.96 115.34,132.95 116.07,132.95 116.80,132.94 117.52,132.93 118.25,132.92 118.98,132.91 119.70,132.89 120.43,132.88 121.16,132.86 121.89,132.84 122.62,132.81 123.34,132.78 124.07,132.75 124.80,132.71 125.53,132.67 126.25,132.62 126.98,132.56 127.71,132.50 128.44,132.42 129.16,132.34 129.89,132.24 130.62,132.13 131.34,132.00 132.07,131.85 132.80,131.67 133.53,131.48 134.25,131.25 134.98,130.99 135.71,130.70 136.44,130.36 137.17,129.98 137.89,129.54 138.62,129.04 139.35,128.47 140.07,127.82 140.80,127.09 141.53,126.26 142.26,125.32 142.99,124.27 143.71,123.09 144.44,121.77 145.17,120.30 145.90,118.67 146.62,116.87 147.35,114.90 148.08,112.74 148.81,110.41 149.53,107.89 150.26,105.20 150.99,102.35 151.72,99.34 152.44,96.21 153.17,92.97 153.90,89.66 154.62,86.30 155.35,82.93 156.08,79.57 156.81,76.27 157.54,73.05 158.26,69.95 158.99,66.97 159.72,64.15 160.44,61.49 161.17,59.01 161.90,56.71 162.63,54.59 163.36,52.65 164.08,50.89 164.81,49.29 165.54,47.85 166.26,46.56 166.99,45.41 167.72,44.38 168.45,43.47 169.18,42.66 169.76,42.08" class="sol2"/></g>
<text x="115.5" y="28.5" class="an" text-anchor="start">D1596A</text>
<path d="M162.90 23.60L165.67 28.67" class="arl"/><path d="M167.50 32.00L163.22 28.87L165.29 27.97L167.17 26.71Z" class="arh"/>
<path d="M176.70 23.60L173.93 28.67" class="arl"/><path d="M172.10 32.00L172.43 26.71L174.31 27.97L176.38 28.87Z" class="arh"/>
<text x="178.3" y="28.7" class="an" text-anchor="start">D1596A</text>
<text x="182.6" y="43.6" class="an" text-anchor="start">+CaCl<tspan class="sub" dy="3" dx="1">2</tspan></text>
<text x="66.4" y="68.5" class="sm" text-anchor="start">A2VicCC</text>
<text x="173.9" y="68.5" class="sm" text-anchor="start">A2VicCC+CaCl<tspan class="sub" dy="3" dx="1">2</tspan></text>
</g>
<g transform="translate(0,185.0)">
<text x="0.7" y="18.3" class="pl">C</text>
<g transform="translate(0,0)"><path d="M45.5 27.29V142.61M45.5 133.0H176.45" class="ax"/>
<path d="M42.0 133.00H45.5" class="ax"/>
<text x="39.3" y="137.90" class="tk" text-anchor="end">0</text>
<path d="M42.0 113.78H45.5" class="ax"/>
<text x="39.3" y="118.68" class="tk" text-anchor="end">20</text>
<path d="M42.0 94.56H45.5" class="ax"/>
<text x="39.3" y="99.46" class="tk" text-anchor="end">40</text>
<path d="M42.0 75.34H45.5" class="ax"/>
<text x="39.3" y="80.24" class="tk" text-anchor="end">60</text>
<path d="M42.0 56.12H45.5" class="ax"/>
<text x="39.3" y="61.02" class="tk" text-anchor="end">80</text>
<path d="M42.0 36.90H45.5" class="ax"/>
<text x="39.3" y="41.80" class="tk" text-anchor="end">100</text>
<path d="M60.05 133.0V137.0" class="ax"/>
<text x="60.05" y="153.7" class="tk" text-anchor="middle">30</text>
<path d="M89.15 133.0V137.0" class="ax"/>
<text x="89.15" y="153.7" class="tk" text-anchor="middle">40</text>
<path d="M118.25 133.0V137.0" class="ax"/>
<text x="118.25" y="153.7" class="tk" text-anchor="middle">50</text>
<path d="M147.35 133.0V137.0" class="ax"/>
<text x="147.35" y="153.7" class="tk" text-anchor="middle">60</text>
<path d="M176.45 133.0V137.0" class="ax"/>
<text x="176.45" y="153.7" class="tk" text-anchor="middle">70</text>
<text x="111.5" y="170.5" class="al" text-anchor="middle">Temperature (°C)</text>
<text transform="translate(11.8,77.7) rotate(-90)" class="al" text-anchor="middle">FU (%)</text>
<path d="M57.14 128.65V132.11M55.94 128.65h2.4M55.94 132.11h2.4M60.05 127.81V131.27M58.85 127.81h2.4M58.85 131.27h2.4M62.96 128.26V131.72M61.76 128.26h2.4M61.76 131.72h2.4M65.87 128.61V132.07M64.67 128.61h2.4M64.67 132.07h2.4M68.78 128.64V132.10M67.58 128.64h2.4M67.58 132.10h2.4M71.69 127.55V131.01M70.49 127.55h2.4M70.49 131.01h2.4M74.60 127.90V131.36M73.40 127.90h2.4M73.40 131.36h2.4M77.51 127.09V130.55M76.31 127.09h2.4M76.31 130.55h2.4M80.42 127.24V130.70M79.22 127.24h2.4M79.22 130.70h2.4M83.33 126.73V130.19M82.13 126.73h2.4M82.13 130.19h2.4M86.24 125.11V128.57M85.04 125.11h2.4M85.04 128.57h2.4M89.15 123.09V126.55M87.95 123.09h2.4M87.95 126.55h2.4M92.06 121.81V125.27M90.86 121.81h2.4M90.86 125.27h2.4M94.97 117.67V121.13M93.77 117.67h2.4M93.77 121.13h2.4M97.88 113.14V116.60M96.68 113.14h2.4M96.68 116.60h2.4M100.79 107.62V111.08M99.59 107.62h2.4M99.59 111.08h2.4M103.70 100.47V103.93M102.50 100.47h2.4M102.50 103.93h2.4M106.61 93.34V96.80M105.41 93.34h2.4M105.41 96.80h2.4M109.52 83.18V86.63M108.32 83.18h2.4M108.32 86.63h2.4M112.43 73.36V76.82M111.23 73.36h2.4M111.23 76.82h2.4M115.34 64.57V68.02M114.14 64.57h2.4M114.14 68.02h2.4M118.25 55.47V58.93M117.05 55.47h2.4M117.05 58.93h2.4M121.16 48.31V51.77M119.96 48.31h2.4M119.96 51.77h2.4M124.07 42.64V45.53M122.87 42.64h2.4M122.87 45.53h2.4M126.98 38.67V41.56M125.78 38.67h2.4M125.78 41.56h2.4M129.89 35.62V38.50M128.69 35.62h2.4M128.69 38.50h2.4M132.80 34.75V37.63M131.60 34.75h2.4M131.60 37.63h2.4" class="ebw"/><path d="M55.84 129.48h2.6l-1.3 2.2zM58.75 128.64h2.6l-1.3 2.2zM61.66 129.09h2.6l-1.3 2.2zM64.57 129.44h2.6l-1.3 2.2zM67.48 129.47h2.6l-1.3 2.2zM70.39 128.38h2.6l-1.3 2.2zM73.30 128.73h2.6l-1.3 2.2zM76.21 127.92h2.6l-1.3 2.2zM79.12 128.07h2.6l-1.3 2.2zM82.03 127.56h2.6l-1.3 2.2zM84.94 125.94h2.6l-1.3 2.2zM87.85 123.92h2.6l-1.3 2.2zM90.76 122.64h2.6l-1.3 2.2zM93.67 118.50h2.6l-1.3 2.2zM96.58 113.97h2.6l-1.3 2.2zM99.49 108.45h2.6l-1.3 2.2zM102.40 101.30h2.6l-1.3 2.2zM105.31 94.17h2.6l-1.3 2.2zM108.22 84.01h2.6l-1.3 2.2zM111.13 74.19h2.6l-1.3 2.2zM114.04 65.40h2.6l-1.3 2.2zM116.95 56.30h2.6l-1.3 2.2zM119.86 49.14h2.6l-1.3 2.2zM122.77 43.19h2.6l-1.3 2.2zM125.68 39.21h2.6l-1.3 2.2zM128.59 36.16h2.6l-1.3 2.2zM131.50 35.29h2.6l-1.3 2.2z" class="mk"/>
<path d="M121.16 127.21V139.32M119.96 127.21h2.4M119.96 139.32h2.4M124.07 126.22V138.96M122.87 126.22h2.4M122.87 138.96h2.4M126.98 125.18V138.56M125.78 125.18h2.4M125.78 138.56h2.4M129.89 124.24V138.25M128.69 124.24h2.4M128.69 138.25h2.4M132.80 123.33V137.98M131.60 123.33h2.4M131.60 137.98h2.4M135.71 120.86V136.14M134.51 120.86h2.4M134.51 136.14h2.4M138.62 119.81V135.72M137.42 119.81h2.4M137.42 135.72h2.4M141.53 119.48V136.03M140.33 119.48h2.4M140.33 136.03h2.4M144.44 116.85V134.03M143.24 116.85h2.4M143.24 134.03h2.4M147.35 114.28V132.09M146.15 114.28h2.4M146.15 132.09h2.4M150.26 109.42V125.18M149.06 109.42h2.4M149.06 125.18h2.4M153.17 107.41V120.67M151.97 107.41h2.4M151.97 120.67h2.4M156.08 101.99V112.75M154.88 101.99h2.4M154.88 112.75h2.4M158.99 93.85V102.12M157.79 93.85h2.4M157.79 102.12h2.4M161.90 80.94V86.70M160.70 80.94h2.4M160.70 86.70h2.4M164.81 65.09V70.85M163.61 65.09h2.4M163.61 70.85h2.4M167.72 51.33V57.10M166.52 51.33h2.4M166.52 57.10h2.4M170.63 41.82V47.59M169.43 41.82h2.4M169.43 47.59h2.4M173.54 34.77V40.54M172.34 34.77h2.4M172.34 40.54h2.4M176.45 33.40V39.16M175.25 33.40h2.4M175.25 39.16h2.4" class="eb"/><path d="M119.86 132.37h2.6l-1.3 2.2zM122.77 131.69h2.6l-1.3 2.2zM125.68 130.97h2.6l-1.3 2.2zM128.59 130.34h2.6l-1.3 2.2zM131.50 129.75h2.6l-1.3 2.2zM134.41 127.60h2.6l-1.3 2.2zM137.32 126.87h2.6l-1.3 2.2zM140.23 126.86h2.6l-1.3 2.2zM143.14 124.54h2.6l-1.3 2.2zM146.05 122.29h2.6l-1.3 2.2zM148.96 116.40h2.6l-1.3 2.2zM151.87 113.14h2.6l-1.3 2.2zM154.78 106.47h2.6l-1.3 2.2zM157.69 97.09h2.6l-1.3 2.2zM160.60 82.92h2.6l-1.3 2.2zM163.51 67.07h2.6l-1.3 2.2zM166.42 53.31h2.6l-1.3 2.2zM169.33 43.81h2.6l-1.3 2.2zM172.24 36.75h2.6l-1.3 2.2zM175.15 35.38h2.6l-1.3 2.2z" class="mk"/>
<polyline points="45.50,132.99 46.23,132.99 46.95,132.98 47.68,132.98 48.41,132.98 49.14,132.98 49.87,132.98 50.59,132.97 51.32,132.97 52.05,132.97 52.77,132.96 53.50,132.96 54.23,132.96 54.96,132.95 55.69,132.95 56.41,132.94 57.14,132.93 57.87,132.93 58.59,132.92 59.32,132.91 60.05,132.90 60.78,132.89 61.51,132.88 62.23,132.87 62.96,132.85 63.69,132.84 64.41,132.82 65.14,132.80 65.87,132.78 66.60,132.76 67.33,132.73 68.05,132.70 68.78,132.67 69.51,132.64 70.23,132.60 70.96,132.56 71.69,132.51 72.42,132.46 73.15,132.41 73.87,132.34 74.60,132.28 75.33,132.20 76.06,132.12 76.78,132.02 77.51,131.92 78.24,131.81 78.97,131.69 79.69,131.55 80.42,131.40 81.15,131.24 81.88,131.06 82.60,130.86 83.33,130.64 84.06,130.39 84.78,130.13 85.51,129.84 86.24,129.52 86.97,129.16 87.69,128.78 88.42,128.35 89.15,127.89 89.88,127.39 90.61,126.83 91.33,126.23 92.06,125.57 92.79,124.86 93.52,124.08 94.24,123.24 94.97,122.33 95.70,121.34 96.43,120.28 97.15,119.13 97.88,117.90 98.61,116.59 99.34,115.18 100.06,113.68 100.79,112.09 101.52,110.41 102.25,108.64 102.97,106.78 103.70,104.83 104.43,102.79 105.16,100.69 105.88,98.51 106.61,96.27 107.34,93.97 108.06,91.63 108.79,89.26 109.52,86.87 110.25,84.47 110.98,82.07 111.70,79.69 112.43,77.33 113.16,75.01 113.89,72.73 114.61,70.51 115.34,68.36 116.07,66.28 116.80,64.28 117.52,62.37 118.25,60.54 118.98,58.80 119.70,57.16 120.43,55.61 121.16,54.15 121.89,52.78 122.62,51.49 123.34,50.30 124.07,49.19 124.80,48.16 125.53,47.20 126.25,46.31 126.98,45.50 127.71,44.75 128.44,44.06 129.16,43.42 129.89,42.84 130.62,42.31 131.34,41.82 132.07,41.37 132.80,40.96 133.53,40.59 134.25,40.25 134.98,39.94 135.13,39.89" class="dot"/>
<polyline points="115.34,132.99 116.07,132.99 116.80,132.99 117.52,132.99 118.25,132.99 118.98,132.99 119.70,132.99 120.43,132.98 121.16,132.98 121.89,132.98 122.62,132.97 123.34,132.97 124.07,132.96 124.80,132.96 125.53,132.95 126.25,132.94 126.98,132.93 127.71,132.92 128.44,132.91 129.16,132.90 129.89,132.88 130.62,132.86 131.34,132.83 132.07,132.81 132.80,132.78 133.53,132.74 134.25,132.70 134.98,132.65 135.71,132.59 136.44,132.52 137.17,132.45 137.89,132.36 138.62,132.25 139.35,132.13 140.07,131.99 140.80,131.83 141.53,131.64 142.26,131.42 142.99,131.17 143.71,130.87 144.44,130.53 145.17,130.14 145.90,129.69 146.62,129.17 147.35,128.57 148.08,127.89 148.81,127.10 149.53,126.20 150.26,125.18 150.99,124.02 151.72,122.71 152.44,121.24 153.17,119.58 153.90,117.73 154.62,115.69 155.35,113.43 156.08,110.96 156.81,108.28 157.54,105.40 158.26,102.33 158.99,99.08 159.72,95.69 160.44,92.18 161.17,88.58 161.90,84.95 162.63,81.32 163.36,77.72 164.08,74.21 164.81,70.82 165.54,67.57 166.26,64.50 166.99,61.62 167.72,58.94 168.45,56.47 169.18,54.21 169.90,52.17 170.63,50.32 171.36,48.66 172.09,47.19 172.81,45.88 173.54,44.72 174.27,43.70 175.00,42.80 175.29,42.47" class="dash"/>
<path d="M60.05 130.48V134.71M58.85 130.48h2.4M58.85 134.71h2.4M62.96 130.64V134.87M61.76 130.64h2.4M61.76 134.87h2.4M65.87 130.18V134.41M64.67 130.18h2.4M64.67 134.41h2.4M68.78 129.55V133.78M67.58 129.55h2.4M67.58 133.78h2.4M71.69 128.83V133.06M70.49 128.83h2.4M70.49 133.06h2.4M74.60 128.14V132.37M73.40 128.14h2.4M73.40 132.37h2.4M77.51 128.27V132.50M76.31 128.27h2.4M76.31 132.50h2.4M80.42 127.30V131.52M79.22 127.30h2.4M79.22 131.52h2.4M83.33 127.08V131.31M82.13 127.08h2.4M82.13 131.31h2.4M86.24 126.65V130.88M85.04 126.65h2.4M85.04 130.88h2.4M89.15 125.69V129.92M87.95 125.69h2.4M87.95 129.92h2.4M92.06 123.97V128.20M90.86 123.97h2.4M90.86 128.20h2.4M94.97 121.46V125.69M93.77 121.46h2.4M93.77 125.69h2.4M97.88 118.82V123.05M96.68 118.82h2.4M96.68 123.05h2.4M100.79 114.20V118.43M99.59 114.20h2.4M99.59 118.43h2.4M103.70 109.02V113.25M102.50 109.02h2.4M102.50 113.25h2.4M106.61 102.38V106.61M105.41 102.38h2.4M105.41 106.61h2.4M109.52 93.67V97.90M108.32 93.67h2.4M108.32 97.90h2.4M112.43 84.29V88.52M111.23 84.29h2.4M111.23 88.52h2.4M115.34 75.90V80.13M114.14 75.90h2.4M114.14 80.13h2.4M118.25 66.51V70.73M117.05 66.51h2.4M117.05 70.73h2.4M121.16 58.73V62.95M119.96 58.73h2.4M119.96 62.95h2.4M124.07 51.63V55.86M122.87 51.63h2.4M122.87 55.86h2.4M126.98 46.56V50.79M125.78 46.56h2.4M125.78 50.79h2.4M129.89 43.70V47.93M128.69 43.70h2.4M128.69 47.93h2.4M132.80 40.20V44.43M131.60 40.20h2.4M131.60 44.43h2.4M135.71 38.47V42.70M134.51 38.47h2.4M134.51 42.70h2.4" class="eb"/><path d="M58.75 131.69h2.6l-1.3 2.2zM61.66 131.86h2.6l-1.3 2.2zM64.57 131.40h2.6l-1.3 2.2zM67.48 130.77h2.6l-1.3 2.2zM70.39 130.04h2.6l-1.3 2.2zM73.30 129.36h2.6l-1.3 2.2zM76.21 129.49h2.6l-1.3 2.2zM79.12 128.51h2.6l-1.3 2.2zM82.03 128.29h2.6l-1.3 2.2zM84.94 127.87h2.6l-1.3 2.2zM87.85 126.90h2.6l-1.3 2.2zM90.76 125.18h2.6l-1.3 2.2zM93.67 122.67h2.6l-1.3 2.2zM96.58 120.04h2.6l-1.3 2.2zM99.49 115.41h2.6l-1.3 2.2zM102.40 110.23h2.6l-1.3 2.2zM105.31 103.60h2.6l-1.3 2.2zM108.22 94.89h2.6l-1.3 2.2zM111.13 85.51h2.6l-1.3 2.2zM114.04 77.12h2.6l-1.3 2.2zM116.95 67.72h2.6l-1.3 2.2zM119.86 59.94h2.6l-1.3 2.2zM122.77 52.84h2.6l-1.3 2.2zM125.68 47.77h2.6l-1.3 2.2zM128.59 44.91h2.6l-1.3 2.2zM131.50 41.42h2.6l-1.3 2.2zM134.41 39.68h2.6l-1.3 2.2z" class="mk"/>
<path d="M60.05 130.66V134.89M58.85 130.66h2.4M58.85 134.89h2.4M62.96 130.06V134.29M61.76 130.06h2.4M61.76 134.29h2.4M65.87 130.28V134.51M64.67 130.28h2.4M64.67 134.51h2.4M68.78 128.90V133.13M67.58 128.90h2.4M67.58 133.13h2.4M71.69 128.80V133.02M70.49 128.80h2.4M70.49 133.02h2.4M74.60 128.08V132.31M73.40 128.08h2.4M73.40 132.31h2.4M77.51 127.80V132.03M76.31 127.80h2.4M76.31 132.03h2.4M80.42 127.78V132.00M79.22 127.78h2.4M79.22 132.00h2.4M83.33 127.36V131.59M82.13 127.36h2.4M82.13 131.59h2.4M86.24 127.18V131.41M85.04 127.18h2.4M85.04 131.41h2.4M89.15 127.26V131.49M87.95 127.26h2.4M87.95 131.49h2.4M92.06 125.63V129.86M90.86 125.63h2.4M90.86 129.86h2.4M94.97 125.30V129.53M93.77 125.30h2.4M93.77 129.53h2.4M97.88 123.38V127.61M96.68 123.38h2.4M96.68 127.61h2.4M100.79 120.09V124.31M99.59 120.09h2.4M99.59 124.31h2.4M103.70 118.09V122.32M102.50 118.09h2.4M102.50 122.32h2.4M106.61 113.94V118.17M105.41 113.94h2.4M105.41 118.17h2.4M109.52 108.75V112.97M108.32 108.75h2.4M108.32 112.97h2.4M112.43 101.23V105.45M111.23 101.23h2.4M111.23 105.45h2.4M115.34 94.96V99.19M114.14 94.96h2.4M114.14 99.19h2.4M118.25 87.11V91.34M117.05 87.11h2.4M117.05 91.34h2.4M121.16 77.49V81.71M119.96 77.49h2.4M119.96 81.71h2.4M124.07 70.46V74.69M122.87 70.46h2.4M122.87 74.69h2.4M126.98 61.91V66.14M125.78 61.91h2.4M125.78 66.14h2.4M129.89 55.74V59.97M128.69 55.74h2.4M128.69 59.97h2.4M132.80 50.20V54.43M131.60 50.20h2.4M131.60 54.43h2.4M135.71 45.83V50.06M134.51 45.83h2.4M134.51 50.06h2.4" class="eb"/><path d="M58.75 131.88h2.6l-1.3 2.2zM61.66 131.27h2.6l-1.3 2.2zM64.57 131.50h2.6l-1.3 2.2zM67.48 130.12h2.6l-1.3 2.2zM70.39 130.01h2.6l-1.3 2.2zM73.30 129.29h2.6l-1.3 2.2zM76.21 129.02h2.6l-1.3 2.2zM79.12 128.99h2.6l-1.3 2.2zM82.03 128.58h2.6l-1.3 2.2zM84.94 128.39h2.6l-1.3 2.2zM87.85 128.47h2.6l-1.3 2.2zM90.76 126.85h2.6l-1.3 2.2zM93.67 126.51h2.6l-1.3 2.2zM96.58 124.60h2.6l-1.3 2.2zM99.49 121.30h2.6l-1.3 2.2zM102.40 119.31h2.6l-1.3 2.2zM105.31 115.15h2.6l-1.3 2.2zM108.22 109.96h2.6l-1.3 2.2zM111.13 102.44h2.6l-1.3 2.2zM114.04 96.17h2.6l-1.3 2.2zM116.95 88.33h2.6l-1.3 2.2zM119.86 78.70h2.6l-1.3 2.2zM122.77 71.67h2.6l-1.3 2.2zM125.68 63.12h2.6l-1.3 2.2zM128.59 56.96h2.6l-1.3 2.2zM131.50 51.41h2.6l-1.3 2.2zM134.41 47.05h2.6l-1.3 2.2z" class="mk"/>
<polyline points="45.50,132.99 46.23,132.99 46.95,132.99 47.68,132.99 48.41,132.99 49.14,132.99 49.87,132.98 50.59,132.98 51.32,132.98 52.05,132.98 52.77,132.98 53.50,132.97 54.23,132.97 54.96,132.97 55.69,132.97 56.41,132.96 57.14,132.96 57.87,132.95 58.59,132.95 59.32,132.94 60.05,132.94 60.78,132.93 61.51,132.92 62.23,132.91 62.96,132.91 63.69,132.90 64.41,132.88 65.14,132.87 65.87,132.86 66.60,132.84 67.33,132.83 68.05,132.81 68.78,132.79 69.51,132.77 70.23,132.74 70.96,132.72 71.69,132.69 72.42,132.65 73.15,132.62 73.87,132.58 74.60,132.53 75.33,132.48 76.06,132.43 76.78,132.37 77.51,132.30 78.24,132.23 78.97,132.15 79.69,132.06 80.42,131.96 81.15,131.86 81.88,131.74 82.60,131.61 83.33,131.46 84.06,131.31 84.78,131.13 85.51,130.94 86.24,130.73 86.97,130.49 87.69,130.24 88.42,129.96 89.15,129.65 89.88,129.31 90.61,128.94 91.33,128.53 92.06,128.08 92.79,127.59 93.52,127.06 94.24,126.48 94.97,125.84 95.70,125.15 96.43,124.40 97.15,123.59 97.88,122.70 98.61,121.74 99.34,120.71 100.06,119.60 100.79,118.41 101.52,117.12 102.25,115.75 102.97,114.29 103.70,112.74 104.43,111.10 105.16,109.36 105.88,107.53 106.61,105.62 107.34,103.62 108.06,101.54 108.79,99.39 109.52,97.17 110.25,94.89 110.98,92.57 111.70,90.21 112.43,87.83 113.16,85.43 113.89,83.03 114.61,80.64 115.34,78.27 116.07,75.93 116.80,73.63 117.52,71.39 118.25,69.21 118.98,67.11 119.70,65.07 120.43,63.12 121.16,61.26 121.89,59.49 122.62,57.81 123.34,56.22 124.07,54.72 124.80,53.31 125.53,52.00 126.25,50.77 126.98,49.62 127.71,48.56 128.44,47.57 129.16,46.66 129.89,45.82 130.62,45.04 131.34,44.33 132.07,43.67 132.80,43.07 133.53,42.51 134.25,42.01 134.98,41.55 135.71,41.12 136.29,40.81" class="sol"/>
<polyline points="45.50,132.99 46.23,132.99 46.95,132.99 47.68,132.99 48.41,132.99 49.14,132.98 49.87,132.98 50.59,132.98 51.32,132.98 52.05,132.98 52.77,132.97 53.50,132.97 54.23,132.97 54.96,132.97 55.69,132.96 56.41,132.96 57.14,132.96 57.87,132.95 58.59,132.95 59.32,132.94 60.05,132.94 60.78,132.93 61.51,132.93 62.23,132.92 62.96,132.91 63.69,132.90 64.41,132.89 65.14,132.88 65.87,132.87 66.60,132.86 67.33,132.85 68.05,132.83 68.78,132.82 69.51,132.80 70.23,132.78 70.96,132.76 71.69,132.74 72.42,132.72 73.15,132.69 73.87,132.66 74.60,132.63 75.33,132.59 76.06,132.56 76.78,132.52 77.51,132.47 78.24,132.42 78.97,132.37 79.69,132.31 80.42,132.25 81.15,132.18 81.88,132.10 82.60,132.02 83.33,131.93 84.06,131.83 84.78,131.72 85.51,131.60 86.24,131.47 86.97,131.33 87.69,131.18 88.42,131.01 89.15,130.83 89.88,130.63 90.61,130.42 91.33,130.18 92.06,129.93 92.79,129.65 93.52,129.35 94.24,129.02 94.97,128.67 95.70,128.28 96.43,127.87 97.15,127.42 97.88,126.93 98.61,126.40 99.34,125.83 100.06,125.21 100.79,124.55 101.52,123.84 102.25,123.07 102.97,122.25 103.70,121.36 104.43,120.42 105.16,119.41 105.88,118.33 106.61,117.19 107.34,115.98 108.06,114.69 108.79,113.33 109.52,111.89 110.25,110.39 110.98,108.81 111.70,107.15 112.43,105.43 113.16,103.65 113.89,101.79 114.61,99.88 115.34,97.92 116.07,95.91 116.80,93.86 117.52,91.77 118.25,89.65 118.98,87.52 119.70,85.38 120.43,83.23 121.16,81.10 121.89,78.97 122.62,76.88 123.34,74.81 124.07,72.78 124.80,70.80 125.53,68.86 126.25,66.99 126.98,65.17 127.71,63.43 128.44,61.75 129.16,60.14 129.89,58.60 130.62,57.14 131.34,55.75 132.07,54.43 132.80,53.19 133.53,52.02 134.25,50.91 134.98,49.88 135.71,48.91 136.44,48.00 137.17,47.15 137.89,46.36 138.62,45.63 139.35,44.95 140.07,44.31 140.80,43.72 141.53,43.18 142.26,42.67 142.99,42.21 143.71,41.78 144.44,41.38 145.17,41.01 145.90,40.68 146.62,40.37 147.35,40.08 148.08,39.82 148.81,39.57 149.53,39.35 150.26,39.15 150.99,38.96 151.72,38.79 152.44,38.63 153.17,38.48" class="sol"/></g>
<text x="83.5" y="28.4" class="an" text-anchor="start">N1602A</text>
<path d="M133.30 22.30L134.01 27.73" class="arl"/><path d="M134.50 31.50L131.65 27.03L133.91 26.94L136.11 26.45Z" class="arh"/>
<path d="M148.70 22.80L147.67 31.03" class="arl"/><path d="M147.20 34.80L145.56 29.76L147.77 30.24L150.03 30.32Z" class="arh"/>
<text x="151.2" y="28.4" class="an" text-anchor="start">N1602A+CaCl<tspan class="sub" dy="3" dx="1">2</tspan></text>
<text x="66.4" y="67.3" class="sm" text-anchor="start">A2VicCC</text>
<text x="177.4" y="68.2" class="sm" text-anchor="start">A2VicCC+CaCl<tspan class="sub" dy="3" dx="1">2</tspan></text>
</g>
<g transform="translate(0,370)">
<text x="0.30000000000000004" y="13.4" class="pl">D</text>
<g transform="translate(0,0.4)"><path d="M45.5 27.29V142.61M45.5 133.0H176.45" class="ax"/>
<path d="M42.0 133.00H45.5" class="ax"/>
<text x="39.3" y="137.90" class="tk" text-anchor="end">0</text>
<path d="M42.0 113.78H45.5" class="ax"/>
<text x="39.3" y="118.68" class="tk" text-anchor="end">20</text>
<path d="M42.0 94.56H45.5" class="ax"/>
<text x="39.3" y="99.46" class="tk" text-anchor="end">40</text>
<path d="M42.0 75.34H45.5" class="ax"/>
<text x="39.3" y="80.24" class="tk" text-anchor="end">60</text>
<path d="M42.0 56.12H45.5" class="ax"/>
<text x="39.3" y="61.02" class="tk" text-anchor="end">80</text>
<path d="M42.0 36.90H45.5" class="ax"/>
<text x="39.3" y="41.80" class="tk" text-anchor="end">100</text>
<path d="M60.05 133.0V137.0" class="ax"/>
<text x="60.05" y="153.7" class="tk" text-anchor="middle">30</text>
<path d="M89.15 133.0V137.0" class="ax"/>
<text x="89.15" y="153.7" class="tk" text-anchor="middle">40</text>
<path d="M118.25 133.0V137.0" class="ax"/>
<text x="118.25" y="153.7" class="tk" text-anchor="middle">50</text>
<path d="M147.35 133.0V137.0" class="ax"/>
<text x="147.35" y="153.7" class="tk" text-anchor="middle">60</text>
<path d="M176.45 133.0V137.0" class="ax"/>
<text x="176.45" y="153.7" class="tk" text-anchor="middle">70</text>
<text x="111.5" y="170.5" class="al" text-anchor="middle">Temperature (°C)</text>
<text transform="translate(11.8,77.7) rotate(-90)" class="al" text-anchor="middle">FU (%)</text>
<path d="M57.14 128.40V131.86M55.94 128.40h2.4M55.94 131.86h2.4M60.05 128.03V131.49M58.85 128.03h2.4M58.85 131.49h2.4M62.96 129.15V132.61M61.76 129.15h2.4M61.76 132.61h2.4M65.87 127.96V131.42M64.67 127.96h2.4M64.67 131.42h2.4M68.78 128.25V131.71M67.58 128.25h2.4M67.58 131.71h2.4M71.69 127.79V131.25M70.49 127.79h2.4M70.49 131.25h2.4M74.60 128.50V131.96M73.40 128.50h2.4M73.40 131.96h2.4M77.51 127.18V130.64M76.31 127.18h2.4M76.31 130.64h2.4M80.42 126.41V129.87M79.22 126.41h2.4M79.22 129.87h2.4M83.33 127.03V130.49M82.13 127.03h2.4M82.13 130.49h2.4M86.24 125.56V129.02M85.04 125.56h2.4M85.04 129.02h2.4M89.15 123.66V127.12M87.95 123.66h2.4M87.95 127.12h2.4M92.06 121.06V124.52M90.86 121.06h2.4M90.86 124.52h2.4M94.97 118.88V122.34M93.77 118.88h2.4M93.77 122.34h2.4M97.88 114.77V118.23M96.68 114.77h2.4M96.68 118.23h2.4M100.79 109.11V112.57M99.59 109.11h2.4M99.59 112.57h2.4M103.70 101.56V105.02M102.50 101.56h2.4M102.50 105.02h2.4M106.61 93.08V96.53M105.41 93.08h2.4M105.41 96.53h2.4M109.52 84.48V87.94M108.32 84.48h2.4M108.32 87.94h2.4M112.43 75.17V78.63M111.23 75.17h2.4M111.23 78.63h2.4M115.34 64.99V68.45M114.14 64.99h2.4M114.14 68.45h2.4M118.25 56.15V59.61M117.05 56.15h2.4M117.05 59.61h2.4M121.16 48.72V52.18M119.96 48.72h2.4M119.96 52.18h2.4M124.07 43.81V46.70M122.87 43.81h2.4M122.87 46.70h2.4M126.98 38.91V41.79M125.78 38.91h2.4M125.78 41.79h2.4M129.89 35.10V37.99M128.69 35.10h2.4M128.69 37.99h2.4M132.80 35.30V38.19M131.60 35.30h2.4M131.60 38.19h2.4" class="ebw"/><path d="M55.84 129.23h2.6l-1.3 2.2zM58.75 128.86h2.6l-1.3 2.2zM61.66 129.98h2.6l-1.3 2.2zM64.57 128.79h2.6l-1.3 2.2zM67.48 129.08h2.6l-1.3 2.2zM70.39 128.62h2.6l-1.3 2.2zM73.30 129.33h2.6l-1.3 2.2zM76.21 128.01h2.6l-1.3 2.2zM79.12 127.24h2.6l-1.3 2.2zM82.03 127.86h2.6l-1.3 2.2zM84.94 126.39h2.6l-1.3 2.2zM87.85 124.49h2.6l-1.3 2.2zM90.76 121.89h2.6l-1.3 2.2zM93.67 119.71h2.6l-1.3 2.2zM96.58 115.60h2.6l-1.3 2.2zM99.49 109.94h2.6l-1.3 2.2zM102.40 102.39h2.6l-1.3 2.2zM105.31 93.90h2.6l-1.3 2.2zM108.22 85.31h2.6l-1.3 2.2zM111.13 76.00h2.6l-1.3 2.2zM114.04 65.82h2.6l-1.3 2.2zM116.95 56.98h2.6l-1.3 2.2zM119.86 49.55h2.6l-1.3 2.2zM122.77 44.36h2.6l-1.3 2.2zM125.68 39.45h2.6l-1.3 2.2zM128.59 35.64h2.6l-1.3 2.2zM131.50 35.85h2.6l-1.3 2.2z" class="mk"/>
<path d="M121.16 126.06V138.17M119.96 126.06h2.4M119.96 138.17h2.4M124.07 126.06V138.80M122.87 126.06h2.4M122.87 138.80h2.4M126.98 124.32V137.69M125.78 124.32h2.4M125.78 137.69h2.4M129.89 123.27V137.28M128.69 123.27h2.4M128.69 137.28h2.4M132.80 122.40V137.04M131.60 122.40h2.4M131.60 137.04h2.4M135.71 121.56V136.84M134.51 121.56h2.4M134.51 136.84h2.4M138.62 120.38V136.29M137.42 120.38h2.4M137.42 136.29h2.4M141.53 118.63V135.18M140.33 118.63h2.4M140.33 135.18h2.4M144.44 116.24V133.42M143.24 116.24h2.4M143.24 133.42h2.4M147.35 114.53V132.35M146.15 114.53h2.4M146.15 132.35h2.4M150.26 109.76V125.52M149.06 109.76h2.4M149.06 125.52h2.4M153.17 106.80V120.06M151.97 106.80h2.4M151.97 120.06h2.4M156.08 101.58V112.34M154.88 101.58h2.4M154.88 112.34h2.4M158.99 93.96V102.23M157.79 93.96h2.4M157.79 102.23h2.4M161.90 80.81V86.58M160.70 80.81h2.4M160.70 86.58h2.4M164.81 64.28V70.04M163.61 64.28h2.4M163.61 70.04h2.4M167.72 51.55V57.32M166.52 51.55h2.4M166.52 57.32h2.4M170.63 41.60V47.37M169.43 41.60h2.4M169.43 47.37h2.4M173.54 35.32V41.08M172.34 35.32h2.4M172.34 41.08h2.4M176.45 33.60V39.36M175.25 33.60h2.4M175.25 39.36h2.4" class="eb"/><path d="M119.86 131.22h2.6l-1.3 2.2zM122.77 131.53h2.6l-1.3 2.2zM125.68 130.11h2.6l-1.3 2.2zM128.59 129.37h2.6l-1.3 2.2zM131.50 128.82h2.6l-1.3 2.2zM134.41 128.30h2.6l-1.3 2.2zM137.32 127.44h2.6l-1.3 2.2zM140.23 126.00h2.6l-1.3 2.2zM143.14 123.93h2.6l-1.3 2.2zM146.05 122.54h2.6l-1.3 2.2zM148.96 116.74h2.6l-1.3 2.2zM151.87 112.53h2.6l-1.3 2.2zM154.78 106.06h2.6l-1.3 2.2zM157.69 97.19h2.6l-1.3 2.2zM160.60 82.79h2.6l-1.3 2.2zM163.51 66.26h2.6l-1.3 2.2zM166.42 53.53h2.6l-1.3 2.2zM169.33 43.58h2.6l-1.3 2.2zM172.24 37.30h2.6l-1.3 2.2zM175.15 35.58h2.6l-1.3 2.2z" class="mk"/>
<polyline points="45.50,132.99 46.23,132.99 46.95,132.98 47.68,132.98 48.41,132.98 49.14,132.98 49.87,132.98 50.59,132.97 51.32,132.97 52.05,132.97 52.77,132.97 53.50,132.96 54.23,132.96 54.96,132.95 55.69,132.95 56.41,132.94 57.14,132.94 57.87,132.93 58.59,132.92 59.32,132.91 60.05,132.91 60.78,132.90 61.51,132.88 62.23,132.87 62.96,132.86 63.69,132.84 64.41,132.83 65.14,132.81 65.87,132.79 66.60,132.77 67.33,132.74 68.05,132.72 68.78,132.69 69.51,132.65 70.23,132.62 70.96,132.58 71.69,132.53 72.42,132.48 73.15,132.43 73.87,132.37 74.60,132.30 75.33,132.23 76.06,132.15 76.78,132.06 77.51,131.96 78.24,131.86 78.97,131.74 79.69,131.61 80.42,131.46 81.15,131.31 81.88,131.13 82.60,130.94 83.33,130.73 84.06,130.49 84.78,130.24 85.51,129.96 86.24,129.65 86.97,129.31 87.69,128.94 88.42,128.53 89.15,128.08 89.88,127.59 90.61,127.06 91.33,126.48 92.06,125.84 92.79,125.15 93.52,124.40 94.24,123.59 94.97,122.70 95.70,121.74 96.43,120.71 97.15,119.60 97.88,118.41 98.61,117.12 99.34,115.75 100.06,114.29 100.79,112.74 101.52,111.10 102.25,109.36 102.97,107.53 103.70,105.62 104.43,103.62 105.16,101.54 105.88,99.39 106.61,97.17 107.34,94.89 108.06,92.57 108.79,90.21 109.52,87.83 110.25,85.43 110.98,83.03 111.70,80.64 112.43,78.27 113.16,75.93 113.89,73.63 114.61,71.39 115.34,69.21 116.07,67.11 116.80,65.07 117.52,63.12 118.25,61.26 118.98,59.49 119.70,57.81 120.43,56.22 121.16,54.72 121.89,53.31 122.62,52.00 123.34,50.77 124.07,49.62 124.80,48.56 125.53,47.57 126.25,46.66 126.98,45.82 127.71,45.04 128.44,44.33 129.16,43.67 129.89,43.07 130.62,42.51 131.34,42.01 132.07,41.55 132.80,41.12 133.53,40.74 134.25,40.38 134.98,40.06 135.13,40.00" class="dot"/>
<polyline points="115.34,132.99 116.07,132.99 116.80,132.99 117.52,132.99 118.25,132.99 118.98,132.99 119.70,132.99 120.43,132.98 121.16,132.98 121.89,132.98 122.62,132.97 123.34,132.97 124.07,132.96 124.80,132.96 125.53,132.95 126.25,132.94 126.98,132.93 127.71,132.92 128.44,132.91 129.16,132.90 129.89,132.88 130.62,132.86 131.34,132.83 132.07,132.81 132.80,132.78 133.53,132.74 134.25,132.70 134.98,132.65 135.71,132.59 136.44,132.52 137.17,132.45 137.89,132.36 138.62,132.25 139.35,132.13 140.07,131.99 140.80,131.83 141.53,131.64 142.26,131.42 142.99,131.17 143.71,130.87 144.44,130.53 145.17,130.14 145.90,129.69 146.62,129.17 147.35,128.57 148.08,127.89 148.81,127.10 149.53,126.20 150.26,125.18 150.99,124.02 151.72,122.71 152.44,121.24 153.17,119.58 153.90,117.73 154.62,115.69 155.35,113.43 156.08,110.96 156.81,108.28 157.54,105.40 158.26,102.33 158.99,99.08 159.72,95.69 160.44,92.18 161.17,88.58 161.90,84.95 162.63,81.32 163.36,77.72 164.08,74.21 164.81,70.82 165.54,67.57 166.26,64.50 166.99,61.62 167.72,58.94 168.45,56.47 169.18,54.21 169.90,52.17 170.63,50.32 171.36,48.66 172.09,47.19 172.81,45.88 173.54,44.72 174.27,43.70 175.00,42.80 175.29,42.47" class="dash"/>
<path d="M60.05 130.62V134.85M58.85 130.62h2.4M58.85 134.85h2.4M62.96 130.47V134.70M61.76 130.47h2.4M61.76 134.70h2.4M65.87 129.48V133.71M64.67 129.48h2.4M64.67 133.71h2.4M68.78 128.79V133.02M67.58 128.79h2.4M67.58 133.02h2.4M71.69 129.50V133.73M70.49 129.50h2.4M70.49 133.73h2.4M74.60 128.55V132.78M73.40 128.55h2.4M73.40 132.78h2.4M77.51 128.65V132.88M76.31 128.65h2.4M76.31 132.88h2.4M80.42 127.85V132.08M79.22 127.85h2.4M79.22 132.08h2.4M83.33 128.07V132.30M82.13 128.07h2.4M82.13 132.30h2.4M86.24 128.28V132.51M85.04 128.28h2.4M85.04 132.51h2.4M89.15 127.93V132.16M87.95 127.93h2.4M87.95 132.16h2.4M92.06 127.60V131.83M90.86 127.60h2.4M90.86 131.83h2.4M94.97 125.97V130.19M93.77 125.97h2.4M93.77 130.19h2.4M97.88 124.75V128.98M96.68 124.75h2.4M96.68 128.98h2.4M100.79 123.09V127.32M99.59 123.09h2.4M99.59 127.32h2.4M103.70 119.98V124.21M102.50 119.98h2.4M102.50 124.21h2.4M106.61 116.13V120.36M105.41 116.13h2.4M105.41 120.36h2.4M109.52 110.18V114.41M108.32 110.18h2.4M108.32 114.41h2.4M112.43 104.42V108.65M111.23 104.42h2.4M111.23 108.65h2.4M115.34 94.98V99.20M114.14 94.98h2.4M114.14 99.20h2.4M118.25 86.59V90.82M117.05 86.59h2.4M117.05 90.82h2.4M121.16 76.85V81.08M119.96 76.85h2.4M119.96 81.08h2.4M124.07 67.88V72.10M122.87 67.88h2.4M122.87 72.10h2.4M126.98 59.17V63.40M125.78 59.17h2.4M125.78 63.40h2.4M129.89 52.46V56.69M128.69 52.46h2.4M128.69 56.69h2.4M132.80 47.62V51.84M131.60 47.62h2.4M131.60 51.84h2.4M135.71 43.82V48.05M134.51 43.82h2.4M134.51 48.05h2.4M138.62 40.63V44.86M137.42 40.63h2.4M137.42 44.86h2.4M141.53 38.44V42.67M140.33 38.44h2.4M140.33 42.67h2.4M144.44 37.78V42.01M143.24 37.78h2.4M143.24 42.01h2.4" class="eb"/><path d="M58.75 131.83h2.6l-1.3 2.2zM61.66 131.69h2.6l-1.3 2.2zM64.57 130.70h2.6l-1.3 2.2zM67.48 130.01h2.6l-1.3 2.2zM70.39 130.72h2.6l-1.3 2.2zM73.30 129.77h2.6l-1.3 2.2zM76.21 129.87h2.6l-1.3 2.2zM79.12 129.06h2.6l-1.3 2.2zM82.03 129.29h2.6l-1.3 2.2zM84.94 129.49h2.6l-1.3 2.2zM87.85 129.14h2.6l-1.3 2.2zM90.76 128.81h2.6l-1.3 2.2zM93.67 127.18h2.6l-1.3 2.2zM96.58 125.96h2.6l-1.3 2.2zM99.49 124.31h2.6l-1.3 2.2zM102.40 121.20h2.6l-1.3 2.2zM105.31 117.34h2.6l-1.3 2.2zM108.22 111.39h2.6l-1.3 2.2zM111.13 105.63h2.6l-1.3 2.2zM114.04 96.19h2.6l-1.3 2.2zM116.95 87.80h2.6l-1.3 2.2zM119.86 78.06h2.6l-1.3 2.2zM122.77 69.09h2.6l-1.3 2.2zM125.68 60.39h2.6l-1.3 2.2zM128.59 53.67h2.6l-1.3 2.2zM131.50 48.83h2.6l-1.3 2.2zM134.41 45.03h2.6l-1.3 2.2zM137.32 41.84h2.6l-1.3 2.2zM140.23 39.66h2.6l-1.3 2.2zM143.14 38.99h2.6l-1.3 2.2z" class="mk"/>
<path d="M60.05 129.98V134.21M58.85 129.98h2.4M58.85 134.21h2.4M62.96 129.36V133.59M61.76 129.36h2.4M61.76 133.59h2.4M65.87 129.84V134.07M64.67 129.84h2.4M64.67 134.07h2.4M68.78 129.93V134.15M67.58 129.93h2.4M67.58 134.15h2.4M71.69 129.63V133.85M70.49 129.63h2.4M70.49 133.85h2.4M74.60 128.58V132.81M73.40 128.58h2.4M73.40 132.81h2.4M77.51 128.32V132.54M76.31 128.32h2.4M76.31 132.54h2.4M80.42 127.79V132.02M79.22 127.79h2.4M79.22 132.02h2.4M83.33 127.81V132.04M82.13 127.81h2.4M82.13 132.04h2.4M86.24 128.54V132.77M85.04 128.54h2.4M85.04 132.77h2.4M89.15 128.31V132.53M87.95 128.31h2.4M87.95 132.53h2.4M92.06 127.73V131.96M90.86 127.73h2.4M90.86 131.96h2.4M94.97 127.15V131.37M93.77 127.15h2.4M93.77 131.37h2.4M97.88 125.32V129.55M96.68 125.32h2.4M96.68 129.55h2.4M100.79 123.59V127.81M99.59 123.59h2.4M99.59 127.81h2.4M103.70 121.36V125.58M102.50 121.36h2.4M102.50 125.58h2.4M106.61 119.28V123.51M105.41 119.28h2.4M105.41 123.51h2.4M109.52 114.11V118.34M108.32 114.11h2.4M108.32 118.34h2.4M112.43 109.35V113.57M111.23 109.35h2.4M111.23 113.57h2.4M115.34 102.08V106.30M114.14 102.08h2.4M114.14 106.30h2.4M118.25 93.16V97.39M117.05 93.16h2.4M117.05 97.39h2.4M121.16 84.81V89.04M119.96 84.81h2.4M119.96 89.04h2.4M124.07 75.27V79.50M122.87 75.27h2.4M122.87 79.50h2.4M126.98 65.16V69.39M125.78 65.16h2.4M125.78 69.39h2.4M129.89 58.18V62.41M128.69 58.18h2.4M128.69 62.41h2.4M132.80 51.73V55.96M131.60 51.73h2.4M131.60 55.96h2.4M135.71 46.48V50.71M134.51 46.48h2.4M134.51 50.71h2.4M138.62 42.72V46.95M137.42 42.72h2.4M137.42 46.95h2.4M141.53 41.16V45.39M140.33 41.16h2.4M140.33 45.39h2.4M144.44 38.85V43.08M143.24 38.85h2.4M143.24 43.08h2.4" class="eb"/><path d="M58.75 131.20h2.6l-1.3 2.2zM61.66 130.57h2.6l-1.3 2.2zM64.57 131.06h2.6l-1.3 2.2zM67.48 131.14h2.6l-1.3 2.2zM70.39 130.84h2.6l-1.3 2.2zM73.30 129.79h2.6l-1.3 2.2zM76.21 129.53h2.6l-1.3 2.2zM79.12 129.00h2.6l-1.3 2.2zM82.03 129.02h2.6l-1.3 2.2zM84.94 129.75h2.6l-1.3 2.2zM87.85 129.52h2.6l-1.3 2.2zM90.76 128.95h2.6l-1.3 2.2zM93.67 128.36h2.6l-1.3 2.2zM96.58 126.54h2.6l-1.3 2.2zM99.49 124.80h2.6l-1.3 2.2zM102.40 122.57h2.6l-1.3 2.2zM105.31 120.49h2.6l-1.3 2.2zM108.22 115.33h2.6l-1.3 2.2zM111.13 110.56h2.6l-1.3 2.2zM114.04 103.29h2.6l-1.3 2.2zM116.95 94.38h2.6l-1.3 2.2zM119.86 86.03h2.6l-1.3 2.2zM122.77 76.48h2.6l-1.3 2.2zM125.68 66.38h2.6l-1.3 2.2zM128.59 59.40h2.6l-1.3 2.2zM131.50 52.94h2.6l-1.3 2.2zM134.41 47.70h2.6l-1.3 2.2zM137.32 43.94h2.6l-1.3 2.2zM140.23 42.38h2.6l-1.3 2.2zM143.14 40.07h2.6l-1.3 2.2z" class="mk"/>
<polyline points="45.50,133.00 46.23,133.00 46.95,133.00 47.68,133.00 48.41,133.00 49.14,133.00 49.87,132.99 50.59,132.99 51.32,132.99 52.05,132.99 52.77,132.99 53.50,132.99 54.23,132.99 54.96,132.99 55.69,132.99 56.41,132.99 57.14,132.99 57.87,132.98 58.59,132.98 59.32,132.98 60.05,132.98 60.78,132.98 61.51,132.97 62.23,132.97 62.96,132.97 63.69,132.96 64.41,132.96 65.14,132.95 65.87,132.95 66.60,132.94 67.33,132.94 68.05,132.93 68.78,132.92 69.51,132.92 70.23,132.91 70.96,132.90 71.69,132.89 72.42,132.87 73.15,132.86 73.87,132.85 74.60,132.83 75.33,132.81 76.06,132.79 76.78,132.77 77.51,132.74 78.24,132.71 78.97,132.68 79.69,132.65 80.42,132.61 81.15,132.57 81.88,132.53 82.60,132.47 83.33,132.42 84.06,132.36 84.78,132.29 85.51,132.21 86.24,132.13 86.97,132.04 87.69,131.93 88.42,131.82 89.15,131.70 89.88,131.56 90.61,131.40 91.33,131.24 92.06,131.05 92.79,130.85 93.52,130.62 94.24,130.37 94.97,130.10 95.70,129.80 96.43,129.47 97.15,129.10 97.88,128.70 98.61,128.26 99.34,127.78 100.06,127.25 100.79,126.68 101.52,126.05 102.25,125.36 102.97,124.61 103.70,123.79 104.43,122.91 105.16,121.95 105.88,120.91 106.61,119.79 107.34,118.59 108.06,117.29 108.79,115.90 109.52,114.42 110.25,112.84 110.98,111.17 111.70,109.40 112.43,107.54 113.16,105.58 113.89,103.54 114.61,101.42 115.34,99.22 116.07,96.95 116.80,94.62 117.52,92.25 118.25,89.84 118.98,87.40 119.70,84.95 120.43,82.50 121.16,80.06 121.89,77.65 122.62,75.28 123.34,72.95 124.07,70.68 124.80,68.48 125.53,66.36 126.25,64.32 126.98,62.36 127.71,60.50 128.44,58.73 129.16,57.06 129.89,55.48 130.62,54.00 131.34,52.61 132.07,51.31 132.80,50.11 133.53,48.99 134.25,47.95 134.98,46.99 135.71,46.11 136.44,45.29 137.17,44.54 137.89,43.85 138.62,43.22 139.35,42.65 140.07,42.12 140.80,41.64 141.53,41.20 142.26,40.80 142.99,40.43 143.71,40.10 144.44,39.80" class="sol"/>
<polyline points="45.50,133.00 46.23,133.00 46.95,133.00 47.68,133.00 48.41,133.00 49.14,133.00 49.87,133.00 50.59,133.00 51.32,133.00 52.05,132.99 52.77,132.99 53.50,132.99 54.23,132.99 54.96,132.99 55.69,132.99 56.41,132.99 57.14,132.99 57.87,132.99 58.59,132.99 59.32,132.99 60.05,132.98 60.78,132.98 61.51,132.98 62.23,132.98 62.96,132.98 63.69,132.97 64.41,132.97 65.14,132.97 65.87,132.96 66.60,132.96 67.33,132.95 68.05,132.95 68.78,132.94 69.51,132.94 70.23,132.93 70.96,132.92 71.69,132.92 72.42,132.91 73.15,132.90 73.87,132.89 74.60,132.87 75.33,132.86 76.06,132.85 76.78,132.83 77.51,132.81 78.24,132.79 78.97,132.77 79.69,132.74 80.42,132.71 81.15,132.68 81.88,132.65 82.60,132.61 83.33,132.57 84.06,132.53 84.78,132.47 85.51,132.42 86.24,132.36 86.97,132.29 87.69,132.21 88.42,132.13 89.15,132.04 89.88,131.93 90.61,131.82 91.33,131.70 92.06,131.56 92.79,131.40 93.52,131.24 94.24,131.05 94.97,130.85 95.70,130.62 96.43,130.37 97.15,130.10 97.88,129.80 98.61,129.47 99.34,129.10 100.06,128.70 100.79,128.26 101.52,127.78 102.25,127.25 102.97,126.68 103.70,126.05 104.43,125.36 105.16,124.61 105.88,123.79 106.61,122.91 107.34,121.95 108.06,120.91 108.79,119.79 109.52,118.59 110.25,117.29 110.98,115.90 111.70,114.42 112.43,112.84 113.16,111.17 113.89,109.40 114.61,107.54 115.34,105.58 116.07,103.54 116.80,101.42 117.52,99.22 118.25,96.95 118.98,94.62 119.70,92.25 120.43,89.84 121.16,87.40 121.89,84.95 122.62,82.50 123.34,80.06 124.07,77.65 124.80,75.28 125.53,72.95 126.25,70.68 126.98,68.48 127.71,66.36 128.44,64.32 129.16,62.36 129.89,60.50 130.62,58.73 131.34,57.06 132.07,55.48 132.80,54.00 133.53,52.61 134.25,51.31 134.98,50.11 135.71,48.99 136.44,47.95 137.17,46.99 137.89,46.11 138.62,45.29 139.35,44.54 140.07,43.85 140.80,43.22 141.53,42.65 142.26,42.12 142.99,41.64 143.71,41.20 144.44,40.80" class="sol"/></g>
<text x="47.4" y="22.3" class="an" text-anchor="start">D1498A/D1596A</text>
<path d="M138.70 23.90L141.63 28.75" class="arl"/><path d="M143.60 32.00L139.19 29.06L141.22 28.06L143.04 26.73Z" class="arh"/>
<path d="M151.90 23.90L148.91 29.02" class="arl"/><path d="M147.00 32.30L147.48 27.02L149.32 28.33L151.36 29.29Z" class="arh"/>
<text x="150" y="23.5" class="an" text-anchor="start">D1498A/D1596A</text>
<text x="245.5" y="37.3" class="an" text-anchor="end">+CaCl<tspan class="sub" dy="3" dx="1">2</tspan></text>
<text x="66.4" y="68.5" class="sm" text-anchor="start">A2VicCC</text>
<text x="174.2" y="68.8" class="sm" text-anchor="start">A2VicCC+CaCl<tspan class="sub" dy="3" dx="1">2</tspan></text>
</g>
<g transform="translate(265,370)">
<text x="-0.10000000000000009" y="13.7" class="pl">E</text>
<g transform="translate(0,0.4)"><path d="M45.5 27.29V142.61M45.5 133.0H176.45" class="ax"/>
<path d="M42.0 133.00H45.5" class="ax"/>
<text x="39.3" y="137.90" class="tk" text-anchor="end">0</text>
<path d="M42.0 113.78H45.5" class="ax"/>
<text x="39.3" y="118.68" class="tk" text-anchor="end">20</text>
<path d="M42.0 94.56H45.5" class="ax"/>
<text x="39.3" y="99.46" class="tk" text-anchor="end">40</text>
<path d="M42.0 75.34H45.5" class="ax"/>
<text x="39.3" y="80.24" class="tk" text-anchor="end">60</text>
<path d="M42.0 56.12H45.5" class="ax"/>
<text x="39.3" y="61.02" class="tk" text-anchor="end">80</text>
<path d="M42.0 36.90H45.5" class="ax"/>
<text x="39.3" y="41.80" class="tk" text-anchor="end">100</text>
<path d="M60.05 133.0V137.0" class="ax"/>
<text x="60.05" y="153.7" class="tk" text-anchor="middle">30</text>
<path d="M89.15 133.0V137.0" class="ax"/>
<text x="89.15" y="153.7" class="tk" text-anchor="middle">40</text>
<path d="M118.25 133.0V137.0" class="ax"/>
<text x="118.25" y="153.7" class="tk" text-anchor="middle">50</text>
<path d="M147.35 133.0V137.0" class="ax"/>
<text x="147.35" y="153.7" class="tk" text-anchor="middle">60</text>
<path d="M176.45 133.0V137.0" class="ax"/>
<text x="176.45" y="153.7" class="tk" text-anchor="middle">70</text>
<text x="111.5" y="170.5" class="al" text-anchor="middle">Temperature (°C)</text>
<text transform="translate(11.8,77.7) rotate(-90)" class="al" text-anchor="middle">FU (%)</text>
<path d="M57.14 128.61V132.07M55.94 128.61h2.4M55.94 132.07h2.4M60.05 128.50V131.96M58.85 128.50h2.4M58.85 131.96h2.4M62.96 128.87V132.33M61.76 128.87h2.4M61.76 132.33h2.4M65.87 128.22V131.68M64.67 128.22h2.4M64.67 131.68h2.4M68.78 127.53V130.99M67.58 127.53h2.4M67.58 130.99h2.4M71.69 128.23V131.69M70.49 128.23h2.4M70.49 131.69h2.4M74.60 127.74V131.20M73.40 127.74h2.4M73.40 131.20h2.4M77.51 128.02V131.48M76.31 128.02h2.4M76.31 131.48h2.4M80.42 127.23V130.69M79.22 127.23h2.4M79.22 130.69h2.4M83.33 125.82V129.28M82.13 125.82h2.4M82.13 129.28h2.4M86.24 125.49V128.95M85.04 125.49h2.4M85.04 128.95h2.4M89.15 122.59V126.04M87.95 122.59h2.4M87.95 126.04h2.4M92.06 120.12V123.58M90.86 120.12h2.4M90.86 123.58h2.4M94.97 117.97V121.43M93.77 117.97h2.4M93.77 121.43h2.4M97.88 112.08V115.54M96.68 112.08h2.4M96.68 115.54h2.4M100.79 106.97V110.43M99.59 106.97h2.4M99.59 110.43h2.4M103.70 98.96V102.42M102.50 98.96h2.4M102.50 102.42h2.4M106.61 90.39V93.85M105.41 90.39h2.4M105.41 93.85h2.4M109.52 82.77V86.23M108.32 82.77h2.4M108.32 86.23h2.4M112.43 71.56V75.02M111.23 71.56h2.4M111.23 75.02h2.4M115.34 61.77V65.23M114.14 61.77h2.4M114.14 65.23h2.4M118.25 53.08V56.54M117.05 53.08h2.4M117.05 56.54h2.4M121.16 47.08V50.54M119.96 47.08h2.4M119.96 50.54h2.4M124.07 41.36V44.25M122.87 41.36h2.4M122.87 44.25h2.4M126.98 37.17V40.05M125.78 37.17h2.4M125.78 40.05h2.4M129.89 34.90V37.79M128.69 34.90h2.4M128.69 37.79h2.4M132.80 35.11V38.00M131.60 35.11h2.4M131.60 38.00h2.4" class="ebw"/><path d="M55.84 129.44h2.6l-1.3 2.2zM58.75 129.33h2.6l-1.3 2.2zM61.66 129.70h2.6l-1.3 2.2zM64.57 129.05h2.6l-1.3 2.2zM67.48 128.36h2.6l-1.3 2.2zM70.39 129.06h2.6l-1.3 2.2zM73.30 128.57h2.6l-1.3 2.2zM76.21 128.85h2.6l-1.3 2.2zM79.12 128.06h2.6l-1.3 2.2zM82.03 126.65h2.6l-1.3 2.2zM84.94 126.32h2.6l-1.3 2.2zM87.85 123.42h2.6l-1.3 2.2zM90.76 120.95h2.6l-1.3 2.2zM93.67 118.80h2.6l-1.3 2.2zM96.58 112.91h2.6l-1.3 2.2zM99.49 107.80h2.6l-1.3 2.2zM102.40 99.79h2.6l-1.3 2.2zM105.31 91.22h2.6l-1.3 2.2zM108.22 83.60h2.6l-1.3 2.2zM111.13 72.39h2.6l-1.3 2.2zM114.04 62.60h2.6l-1.3 2.2zM116.95 53.91h2.6l-1.3 2.2zM119.86 47.91h2.6l-1.3 2.2zM122.77 41.90h2.6l-1.3 2.2zM125.68 37.71h2.6l-1.3 2.2zM128.59 35.45h2.6l-1.3 2.2zM131.50 35.66h2.6l-1.3 2.2z" class="mk"/>
<path d="M121.16 127.04V139.15M119.96 127.04h2.4M119.96 139.15h2.4M124.07 125.54V138.29M122.87 125.54h2.4M122.87 138.29h2.4M126.98 124.84V138.22M125.78 124.84h2.4M125.78 138.22h2.4M129.89 123.33V137.34M128.69 123.33h2.4M128.69 137.34h2.4M132.80 122.39V137.04M131.60 122.39h2.4M131.60 137.04h2.4M135.71 121.49V136.77M134.51 121.49h2.4M134.51 136.77h2.4M138.62 120.84V136.76M137.42 120.84h2.4M137.42 136.76h2.4M141.53 118.62V135.17M140.33 118.62h2.4M140.33 135.17h2.4M144.44 116.65V133.83M143.24 116.65h2.4M143.24 133.83h2.4M147.35 114.49V132.30M146.15 114.49h2.4M146.15 132.30h2.4M150.26 108.53V124.30M149.06 108.53h2.4M149.06 124.30h2.4M153.17 106.94V120.21M151.97 106.94h2.4M151.97 120.21h2.4M156.08 102.80V113.56M154.88 102.80h2.4M154.88 113.56h2.4M158.99 93.32V101.59M157.79 93.32h2.4M157.79 101.59h2.4M161.90 81.27V87.04M160.70 81.27h2.4M160.70 87.04h2.4M164.81 64.87V70.64M163.61 64.87h2.4M163.61 70.64h2.4M167.72 50.73V56.50M166.52 50.73h2.4M166.52 56.50h2.4M170.63 41.09V46.86M169.43 41.09h2.4M169.43 46.86h2.4M173.54 34.77V40.54M172.34 34.77h2.4M172.34 40.54h2.4M176.45 33.50V39.27M175.25 33.50h2.4M175.25 39.27h2.4" class="eb"/><path d="M119.86 132.19h2.6l-1.3 2.2zM122.77 131.02h2.6l-1.3 2.2zM125.68 130.63h2.6l-1.3 2.2zM128.59 129.43h2.6l-1.3 2.2zM131.50 128.81h2.6l-1.3 2.2zM134.41 128.23h2.6l-1.3 2.2zM137.32 127.90h2.6l-1.3 2.2zM140.23 126.00h2.6l-1.3 2.2zM143.14 124.34h2.6l-1.3 2.2zM146.05 122.50h2.6l-1.3 2.2zM148.96 115.51h2.6l-1.3 2.2zM151.87 112.67h2.6l-1.3 2.2zM154.78 107.28h2.6l-1.3 2.2zM157.69 96.56h2.6l-1.3 2.2zM160.60 83.26h2.6l-1.3 2.2zM163.51 66.85h2.6l-1.3 2.2zM166.42 52.71h2.6l-1.3 2.2zM169.33 43.08h2.6l-1.3 2.2zM172.24 36.75h2.6l-1.3 2.2zM175.15 35.48h2.6l-1.3 2.2z" class="mk"/>
<polyline points="45.50,132.99 46.23,132.98 46.95,132.98 47.68,132.98 48.41,132.98 49.14,132.98 49.87,132.97 50.59,132.97 51.32,132.97 52.05,132.96 52.77,132.96 53.50,132.96 54.23,132.95 54.96,132.95 55.69,132.94 56.41,132.94 57.14,132.93 57.87,132.92 58.59,132.91 59.32,132.90 60.05,132.89 60.78,132.88 61.51,132.87 62.23,132.86 62.96,132.84 63.69,132.82 64.41,132.81 65.14,132.78 65.87,132.76 66.60,132.74 67.33,132.71 68.05,132.68 68.78,132.65 69.51,132.61 70.23,132.57 70.96,132.52 71.69,132.47 72.42,132.42 73.15,132.36 73.87,132.29 74.60,132.22 75.33,132.13 76.06,132.04 76.78,131.94 77.51,131.83 78.24,131.71 78.97,131.58 79.69,131.43 80.42,131.27 81.15,131.09 81.88,130.90 82.60,130.68 83.33,130.44 84.06,130.18 84.78,129.90 85.51,129.58 86.24,129.24 86.97,128.86 87.69,128.44 88.42,127.99 89.15,127.49 89.88,126.95 90.61,126.36 91.33,125.71 92.06,125.01 92.79,124.24 93.52,123.41 94.24,122.52 94.97,121.54 95.70,120.50 96.43,119.37 97.15,118.16 97.88,116.86 98.61,115.47 99.34,113.99 100.06,112.42 100.79,110.76 101.52,109.00 102.25,107.15 102.97,105.22 103.70,103.21 104.43,101.11 105.16,98.95 105.88,96.72 106.61,94.43 107.34,92.10 108.06,89.74 108.79,87.35 109.52,84.95 110.25,82.55 110.98,80.16 111.70,77.80 112.43,75.47 113.16,73.18 113.89,70.95 114.61,68.79 115.34,66.69 116.07,64.68 116.80,62.75 117.52,60.90 118.25,59.14 118.98,57.48 119.70,55.91 120.43,54.43 121.16,53.04 121.89,51.74 122.62,50.53 123.34,49.40 124.07,48.36 124.80,47.38 125.53,46.49 126.25,45.66 126.98,44.89 127.71,44.19 128.44,43.54 129.16,42.95 129.89,42.41 130.62,41.91 131.34,41.46 132.07,41.04 132.80,40.66 133.53,40.32 134.25,40.00 134.98,39.72 135.13,39.66" class="dot"/>
<polyline points="115.34,132.99 116.07,132.99 116.80,132.99 117.52,132.99 118.25,132.99 118.98,132.99 119.70,132.99 120.43,132.98 121.16,132.98 121.89,132.98 122.62,132.97 123.34,132.97 124.07,132.96 124.80,132.96 125.53,132.95 126.25,132.94 126.98,132.93 127.71,132.92 128.44,132.91 129.16,132.90 129.89,132.88 130.62,132.86 131.34,132.83 132.07,132.81 132.80,132.78 133.53,132.74 134.25,132.70 134.98,132.65 135.71,132.59 136.44,132.52 137.17,132.45 137.89,132.36 138.62,132.25 139.35,132.13 140.07,131.99 140.80,131.83 141.53,131.64 142.26,131.42 142.99,131.17 143.71,130.87 144.44,130.53 145.17,130.14 145.90,129.69 146.62,129.17 147.35,128.57 148.08,127.89 148.81,127.10 149.53,126.20 150.26,125.18 150.99,124.02 151.72,122.71 152.44,121.24 153.17,119.58 153.90,117.73 154.62,115.69 155.35,113.43 156.08,110.96 156.81,108.28 157.54,105.40 158.26,102.33 158.99,99.08 159.72,95.69 160.44,92.18 161.17,88.58 161.90,84.95 162.63,81.32 163.36,77.72 164.08,74.21 164.81,70.82 165.54,67.57 166.26,64.50 166.99,61.62 167.72,58.94 168.45,56.47 169.18,54.21 169.90,52.17 170.63,50.32 171.36,48.66 172.09,47.19 172.81,45.88 173.54,44.72 174.27,43.70 175.00,42.80 175.29,42.47" class="dash"/>
<path d="M60.05 130.38V134.61M58.85 130.38h2.4M58.85 134.61h2.4M62.96 130.32V134.55M61.76 130.32h2.4M61.76 134.55h2.4M65.87 130.24V134.46M64.67 130.24h2.4M64.67 134.46h2.4M68.78 130.09V134.32M67.58 130.09h2.4M67.58 134.32h2.4M71.69 128.77V132.99M70.49 128.77h2.4M70.49 132.99h2.4M74.60 128.34V132.57M73.40 128.34h2.4M73.40 132.57h2.4M77.51 128.25V132.48M76.31 128.25h2.4M76.31 132.48h2.4M80.42 127.72V131.95M79.22 127.72h2.4M79.22 131.95h2.4M83.33 127.97V132.19M82.13 127.97h2.4M82.13 132.19h2.4M86.24 127.60V131.83M85.04 127.60h2.4M85.04 131.83h2.4M89.15 126.67V130.90M87.95 126.67h2.4M87.95 130.90h2.4M92.06 124.81V129.04M90.86 124.81h2.4M90.86 129.04h2.4M94.97 124.47V128.70M93.77 124.47h2.4M93.77 128.70h2.4M97.88 121.43V125.66M96.68 121.43h2.4M96.68 125.66h2.4M100.79 118.55V122.78M99.59 118.55h2.4M99.59 122.78h2.4M103.70 113.26V117.48M102.50 113.26h2.4M102.50 117.48h2.4M106.61 107.98V112.21M105.41 107.98h2.4M105.41 112.21h2.4M109.52 100.62V104.85M108.32 100.62h2.4M108.32 104.85h2.4M112.43 91.85V96.07M111.23 91.85h2.4M111.23 96.07h2.4M115.34 82.19V86.42M114.14 82.19h2.4M114.14 86.42h2.4M118.25 72.36V76.59M117.05 72.36h2.4M117.05 76.59h2.4M121.16 64.23V68.46M119.96 64.23h2.4M119.96 68.46h2.4M124.07 55.94V60.17M122.87 55.94h2.4M122.87 60.17h2.4M126.98 51.01V55.24M125.78 51.01h2.4M125.78 55.24h2.4M129.89 46.14V50.37M128.69 46.14h2.4M128.69 50.37h2.4M132.80 43.02V47.24M131.60 43.02h2.4M131.60 47.24h2.4M135.71 40.59V44.81M134.51 40.59h2.4M134.51 44.81h2.4M138.62 37.88V42.11M137.42 37.88h2.4M137.42 42.11h2.4" class="eb"/><path d="M58.75 131.60h2.6l-1.3 2.2zM61.66 131.54h2.6l-1.3 2.2zM64.57 131.45h2.6l-1.3 2.2zM67.48 131.31h2.6l-1.3 2.2zM70.39 129.98h2.6l-1.3 2.2zM73.30 129.56h2.6l-1.3 2.2zM76.21 129.46h2.6l-1.3 2.2zM79.12 128.94h2.6l-1.3 2.2zM82.03 129.18h2.6l-1.3 2.2zM84.94 128.82h2.6l-1.3 2.2zM87.85 127.88h2.6l-1.3 2.2zM90.76 126.02h2.6l-1.3 2.2zM93.67 125.68h2.6l-1.3 2.2zM96.58 122.64h2.6l-1.3 2.2zM99.49 119.76h2.6l-1.3 2.2zM102.40 114.47h2.6l-1.3 2.2zM105.31 109.20h2.6l-1.3 2.2zM108.22 101.84h2.6l-1.3 2.2zM111.13 93.06h2.6l-1.3 2.2zM114.04 83.41h2.6l-1.3 2.2zM116.95 73.58h2.6l-1.3 2.2zM119.86 65.45h2.6l-1.3 2.2zM122.77 57.15h2.6l-1.3 2.2zM125.68 52.22h2.6l-1.3 2.2zM128.59 47.36h2.6l-1.3 2.2zM131.50 44.23h2.6l-1.3 2.2zM134.41 41.80h2.6l-1.3 2.2zM137.32 39.10h2.6l-1.3 2.2z" class="mk"/>
<path d="M60.05 129.98V134.21M58.85 129.98h2.4M58.85 134.21h2.4M62.96 130.53V134.76M61.76 130.53h2.4M61.76 134.76h2.4M65.87 130.24V134.47M64.67 130.24h2.4M64.67 134.47h2.4M68.78 129.59V133.82M67.58 129.59h2.4M67.58 133.82h2.4M71.69 128.77V133.00M70.49 128.77h2.4M70.49 133.00h2.4M74.60 128.32V132.55M73.40 128.32h2.4M73.40 132.55h2.4M77.51 128.05V132.28M76.31 128.05h2.4M76.31 132.28h2.4M80.42 128.12V132.35M79.22 128.12h2.4M79.22 132.35h2.4M83.33 128.54V132.77M82.13 128.54h2.4M82.13 132.77h2.4M86.24 127.77V132.00M85.04 127.77h2.4M85.04 132.00h2.4M89.15 127.52V131.75M87.95 127.52h2.4M87.95 131.75h2.4M92.06 126.16V130.39M90.86 126.16h2.4M90.86 130.39h2.4M94.97 124.85V129.08M93.77 124.85h2.4M93.77 129.08h2.4M97.88 123.61V127.84M96.68 123.61h2.4M96.68 127.84h2.4M100.79 120.95V125.18M99.59 120.95h2.4M99.59 125.18h2.4M103.70 116.52V120.75M102.50 116.52h2.4M102.50 120.75h2.4M106.61 112.77V117.00M105.41 112.77h2.4M105.41 117.00h2.4M109.52 105.23V109.45M108.32 105.23h2.4M108.32 109.45h2.4M112.43 97.28V101.51M111.23 97.28h2.4M111.23 101.51h2.4M115.34 88.22V92.45M114.14 88.22h2.4M114.14 92.45h2.4M118.25 79.56V83.79M117.05 79.56h2.4M117.05 83.79h2.4M121.16 69.96V74.19M119.96 69.96h2.4M119.96 74.19h2.4M124.07 61.47V65.70M122.87 61.47h2.4M122.87 65.70h2.4M126.98 54.29V58.52M125.78 54.29h2.4M125.78 58.52h2.4M129.89 48.15V52.38M128.69 48.15h2.4M128.69 52.38h2.4M132.80 44.37V48.60M131.60 44.37h2.4M131.60 48.60h2.4M135.71 41.89V46.12M134.51 41.89h2.4M134.51 46.12h2.4M138.62 38.87V43.09M137.42 38.87h2.4M137.42 43.09h2.4" class="eb"/><path d="M58.75 131.19h2.6l-1.3 2.2zM61.66 131.75h2.6l-1.3 2.2zM64.57 131.45h2.6l-1.3 2.2zM67.48 130.81h2.6l-1.3 2.2zM70.39 129.99h2.6l-1.3 2.2zM73.30 129.54h2.6l-1.3 2.2zM76.21 129.26h2.6l-1.3 2.2zM79.12 129.33h2.6l-1.3 2.2zM82.03 129.76h2.6l-1.3 2.2zM84.94 128.99h2.6l-1.3 2.2zM87.85 128.73h2.6l-1.3 2.2zM90.76 127.37h2.6l-1.3 2.2zM93.67 126.07h2.6l-1.3 2.2zM96.58 124.82h2.6l-1.3 2.2zM99.49 122.16h2.6l-1.3 2.2zM102.40 117.73h2.6l-1.3 2.2zM105.31 113.99h2.6l-1.3 2.2zM108.22 106.44h2.6l-1.3 2.2zM111.13 98.50h2.6l-1.3 2.2zM114.04 89.44h2.6l-1.3 2.2zM116.95 80.78h2.6l-1.3 2.2zM119.86 71.18h2.6l-1.3 2.2zM122.77 62.69h2.6l-1.3 2.2zM125.68 55.51h2.6l-1.3 2.2zM128.59 49.36h2.6l-1.3 2.2zM131.50 45.58h2.6l-1.3 2.2zM134.41 43.11h2.6l-1.3 2.2zM137.32 40.08h2.6l-1.3 2.2z" class="mk"/>
<polyline points="45.50,132.99 46.23,132.99 46.95,132.99 47.68,132.99 48.41,132.99 49.14,132.99 49.87,132.99 50.59,132.99 51.32,132.99 52.05,132.99 52.77,132.99 53.50,132.98 54.23,132.98 54.96,132.98 55.69,132.98 56.41,132.98 57.14,132.97 57.87,132.97 58.59,132.97 59.32,132.96 60.05,132.96 60.78,132.96 61.51,132.95 62.23,132.95 62.96,132.94 63.69,132.93 64.41,132.93 65.14,132.92 65.87,132.91 66.60,132.90 67.33,132.89 68.05,132.88 68.78,132.86 69.51,132.85 70.23,132.83 70.96,132.81 71.69,132.79 72.42,132.77 73.15,132.75 73.87,132.72 74.60,132.69 75.33,132.66 76.06,132.62 76.78,132.58 77.51,132.54 78.24,132.49 78.97,132.43 79.69,132.37 80.42,132.30 81.15,132.23 81.88,132.15 82.60,132.06 83.33,131.95 84.06,131.84 84.78,131.72 85.51,131.59 86.24,131.44 86.97,131.27 87.69,131.09 88.42,130.89 89.15,130.67 89.88,130.42 90.61,130.16 91.33,129.86 92.06,129.53 92.79,129.18 93.52,128.78 94.24,128.35 94.97,127.88 95.70,127.36 96.43,126.80 97.15,126.18 97.88,125.50 98.61,124.76 99.34,123.96 100.06,123.09 100.79,122.15 101.52,121.13 102.25,120.02 102.97,118.83 103.70,117.56 104.43,116.19 105.16,114.73 105.88,113.17 106.61,111.51 107.34,109.76 108.06,107.92 108.79,105.98 109.52,103.96 110.25,101.85 110.98,99.66 111.70,97.41 112.43,95.09 113.16,92.73 113.89,90.32 114.61,87.89 115.34,85.44 116.07,82.99 116.80,80.55 117.52,78.13 118.25,75.75 118.98,73.41 119.70,71.13 120.43,68.92 121.16,66.78 121.89,64.72 122.62,62.75 123.34,60.86 124.07,59.08 124.80,57.38 125.53,55.79 126.25,54.29 126.98,52.88 127.71,51.57 128.44,50.34 129.16,49.21 129.89,48.15 130.62,47.18 131.34,46.28 132.07,45.45 132.80,44.69 133.53,43.99 134.25,43.35 134.98,42.76 135.71,42.22 136.44,41.73 137.17,41.28 137.89,40.88 138.62,40.50 139.35,40.17 140.07,39.86 140.80,39.58 140.95,39.53" class="sol"/>
<polyline points="45.50,133.00 46.23,133.00 46.95,133.00 47.68,132.99 48.41,132.99 49.14,132.99 49.87,132.99 50.59,132.99 51.32,132.99 52.05,132.99 52.77,132.99 53.50,132.99 54.23,132.99 54.96,132.99 55.69,132.98 56.41,132.98 57.14,132.98 57.87,132.98 58.59,132.98 59.32,132.97 60.05,132.97 60.78,132.97 61.51,132.96 62.23,132.96 62.96,132.95 63.69,132.95 64.41,132.94 65.14,132.94 65.87,132.93 66.60,132.92 67.33,132.92 68.05,132.91 68.78,132.90 69.51,132.89 70.23,132.87 70.96,132.86 71.69,132.85 72.42,132.83 73.15,132.81 73.87,132.79 74.60,132.77 75.33,132.74 76.06,132.71 76.78,132.68 77.51,132.65 78.24,132.61 78.97,132.57 79.69,132.53 80.42,132.47 81.15,132.42 81.88,132.36 82.60,132.29 83.33,132.21 84.06,132.13 84.78,132.04 85.51,131.93 86.24,131.82 86.97,131.70 87.69,131.56 88.42,131.40 89.15,131.24 89.88,131.05 90.61,130.85 91.33,130.62 92.06,130.37 92.79,130.10 93.52,129.80 94.24,129.47 94.97,129.10 95.70,128.70 96.43,128.26 97.15,127.78 97.88,127.25 98.61,126.68 99.34,126.05 100.06,125.36 100.79,124.61 101.52,123.79 102.25,122.91 102.97,121.95 103.70,120.91 104.43,119.79 105.16,118.59 105.88,117.29 106.61,115.90 107.34,114.42 108.06,112.84 108.79,111.17 109.52,109.40 110.25,107.54 110.98,105.58 111.70,103.54 112.43,101.42 113.16,99.22 113.89,96.95 114.61,94.62 115.34,92.25 116.07,89.84 116.80,87.40 117.52,84.95 118.25,82.50 118.98,80.06 119.70,77.65 120.43,75.28 121.16,72.95 121.89,70.68 122.62,68.48 123.34,66.36 124.07,64.32 124.80,62.36 125.53,60.50 126.25,58.73 126.98,57.06 127.71,55.48 128.44,54.00 129.16,52.61 129.89,51.31 130.62,50.11 131.34,48.99 132.07,47.95 132.80,46.99 133.53,46.11 134.25,45.29 134.98,44.54 135.71,43.85 136.44,43.22 137.17,42.65 137.89,42.12 138.62,41.64 139.35,41.20 140.07,40.80 140.80,40.43 140.95,40.37" class="sol"/></g>
<text x="46.3" y="22.3" class="an" text-anchor="start">D1498A/N1602A</text>
<path d="M136.00 25.40L138.54 28.84" class="arl"/><path d="M140.80 31.90L136.14 29.38L138.07 28.20L139.76 26.70Z" class="arh"/>
<path d="M148.00 25.40L145.93 28.69" class="arl"/><path d="M143.90 31.90L144.56 26.64L146.35 28.01L148.36 29.04Z" class="arh"/>
<text x="146.4" y="24.2" class="an" text-anchor="start">D1498A/N1602A</text>
<text x="244.5" y="37.6" class="an" text-anchor="end">+CaCl<tspan class="sub" dy="3" dx="1">2</tspan></text>
<text x="66.0" y="68.5" class="sm" text-anchor="start">A2VicCC</text>
<text x="172.3" y="68.8" class="sm" text-anchor="start">A2VicCC+CaCl<tspan class="sub" dy="3" dx="1">2</tspan></text>
</g>
<g transform="translate(0,555.5)">
<text x="0.5" y="20" class="pl">F</text>
<g transform="translate(0,0.6)"><path d="M45.5 27.29V142.61M45.5 133.0H176.45" class="ax"/>
<path d="M42.0 133.00H45.5" class="ax"/>
<text x="39.3" y="137.90" class="tk" text-anchor="end">0</text>
<path d="M42.0 113.78H45.5" class="ax"/>
<text x="39.3" y="118.68" class="tk" text-anchor="end">20</text>
<path d="M42.0 94.56H45.5" class="ax"/>
<text x="39.3" y="99.46" class="tk" text-anchor="end">40</text>
<path d="M42.0 75.34H45.5" class="ax"/>
<text x="39.3" y="80.24" class="tk" text-anchor="end">60</text>
<path d="M42.0 56.12H45.5" class="ax"/>
<text x="39.3" y="61.02" class="tk" text-anchor="end">80</text>
<path d="M42.0 36.90H45.5" class="ax"/>
<text x="39.3" y="41.80" class="tk" text-anchor="end">100</text>
<path d="M60.05 133.0V137.0" class="ax"/>
<text x="60.05" y="153.7" class="tk" text-anchor="middle">30</text>
<path d="M89.15 133.0V137.0" class="ax"/>
<text x="89.15" y="153.7" class="tk" text-anchor="middle">40</text>
<path d="M118.25 133.0V137.0" class="ax"/>
<text x="118.25" y="153.7" class="tk" text-anchor="middle">50</text>
<path d="M147.35 133.0V137.0" class="ax"/>
<text x="147.35" y="153.7" class="tk" text-anchor="middle">60</text>
<path d="M176.45 133.0V137.0" class="ax"/>
<text x="176.45" y="153.7" class="tk" text-anchor="middle">70</text>
<text x="111.5" y="170.5" class="al" text-anchor="middle">Temperature (°C)</text>
<text transform="translate(11.8,77.7) rotate(-90)" class="al" text-anchor="middle">FU (%)</text>
<path d="M57.14 128.54V132.00M55.94 128.54h2.4M55.94 132.00h2.4M60.05 128.33V131.79M58.85 128.33h2.4M58.85 131.79h2.4M62.96 128.09V131.55M61.76 128.09h2.4M61.76 131.55h2.4M65.87 129.13V132.59M64.67 129.13h2.4M64.67 132.59h2.4M68.78 127.84V131.30M67.58 127.84h2.4M67.58 131.30h2.4M71.69 127.85V131.31M70.49 127.85h2.4M70.49 131.31h2.4M74.60 127.88V131.34M73.40 127.88h2.4M73.40 131.34h2.4M77.51 127.49V130.95M76.31 127.49h2.4M76.31 130.95h2.4M80.42 127.07V130.53M79.22 127.07h2.4M79.22 130.53h2.4M83.33 126.73V130.19M82.13 126.73h2.4M82.13 130.19h2.4M86.24 125.12V128.58M85.04 125.12h2.4M85.04 128.58h2.4M89.15 124.29V127.75M87.95 124.29h2.4M87.95 127.75h2.4M92.06 121.30V124.76M90.86 121.30h2.4M90.86 124.76h2.4M94.97 117.90V121.36M93.77 117.90h2.4M93.77 121.36h2.4M97.88 113.87V117.33M96.68 113.87h2.4M96.68 117.33h2.4M100.79 107.99V111.45M99.59 107.99h2.4M99.59 111.45h2.4M103.70 100.26V103.72M102.50 100.26h2.4M102.50 103.72h2.4M106.61 91.98V95.44M105.41 91.98h2.4M105.41 95.44h2.4M109.52 83.93V87.39M108.32 83.93h2.4M108.32 87.39h2.4M112.43 73.46V76.92M111.23 73.46h2.4M111.23 76.92h2.4M115.34 63.68V67.14M114.14 63.68h2.4M114.14 67.14h2.4M118.25 55.81V59.26M117.05 55.81h2.4M117.05 59.26h2.4M121.16 48.17V51.63M119.96 48.17h2.4M119.96 51.63h2.4M124.07 43.10V45.98M122.87 43.10h2.4M122.87 45.98h2.4M126.98 39.20V42.09M125.78 39.20h2.4M125.78 42.09h2.4M129.89 35.52V38.40M128.69 35.52h2.4M128.69 38.40h2.4M132.80 34.51V37.39M131.60 34.51h2.4M131.60 37.39h2.4" class="ebw"/><path d="M55.84 129.37h2.6l-1.3 2.2zM58.75 129.16h2.6l-1.3 2.2zM61.66 128.92h2.6l-1.3 2.2zM64.57 129.96h2.6l-1.3 2.2zM67.48 128.67h2.6l-1.3 2.2zM70.39 128.68h2.6l-1.3 2.2zM73.30 128.71h2.6l-1.3 2.2zM76.21 128.32h2.6l-1.3 2.2zM79.12 127.90h2.6l-1.3 2.2zM82.03 127.56h2.6l-1.3 2.2zM84.94 125.95h2.6l-1.3 2.2zM87.85 125.12h2.6l-1.3 2.2zM90.76 122.13h2.6l-1.3 2.2zM93.67 118.73h2.6l-1.3 2.2zM96.58 114.70h2.6l-1.3 2.2zM99.49 108.82h2.6l-1.3 2.2zM102.40 101.09h2.6l-1.3 2.2zM105.31 92.81h2.6l-1.3 2.2zM108.22 84.76h2.6l-1.3 2.2zM111.13 74.29h2.6l-1.3 2.2zM114.04 64.51h2.6l-1.3 2.2zM116.95 56.63h2.6l-1.3 2.2zM119.86 49.00h2.6l-1.3 2.2zM122.77 43.64h2.6l-1.3 2.2zM125.68 39.75h2.6l-1.3 2.2zM128.59 36.06h2.6l-1.3 2.2zM131.50 35.05h2.6l-1.3 2.2z" class="mk"/>
<path d="M121.16 126.72V138.83M119.96 126.72h2.4M119.96 138.83h2.4M124.07 124.97V137.71M122.87 124.97h2.4M122.87 137.71h2.4M126.98 124.31V137.69M125.78 124.31h2.4M125.78 137.69h2.4M129.89 124.22V138.24M128.69 124.22h2.4M128.69 138.24h2.4M132.80 122.12V136.76M131.60 122.12h2.4M131.60 136.76h2.4M135.71 121.43V136.71M134.51 121.43h2.4M134.51 136.71h2.4M138.62 119.70V135.61M137.42 119.70h2.4M137.42 135.61h2.4M141.53 118.52V135.06M140.33 118.52h2.4M140.33 135.06h2.4M144.44 116.48V133.66M143.24 116.48h2.4M143.24 133.66h2.4M147.35 114.23V132.05M146.15 114.23h2.4M146.15 132.05h2.4M150.26 108.66V124.42M149.06 108.66h2.4M149.06 124.42h2.4M153.17 106.52V119.78M151.97 106.52h2.4M151.97 119.78h2.4M156.08 101.66V112.42M154.88 101.66h2.4M154.88 112.42h2.4M158.99 94.08V102.35M157.79 94.08h2.4M157.79 102.35h2.4M161.90 80.33V86.09M160.70 80.33h2.4M160.70 86.09h2.4M164.81 64.64V70.40M163.61 64.64h2.4M163.61 70.40h2.4M167.72 51.67V57.44M166.52 51.67h2.4M166.52 57.44h2.4M170.63 41.95V47.71M169.43 41.95h2.4M169.43 47.71h2.4M173.54 35.50V41.27M172.34 35.50h2.4M172.34 41.27h2.4M176.45 34.19V39.96M175.25 34.19h2.4M175.25 39.96h2.4" class="eb"/><path d="M119.86 131.87h2.6l-1.3 2.2zM122.77 130.44h2.6l-1.3 2.2zM125.68 130.10h2.6l-1.3 2.2zM128.59 130.33h2.6l-1.3 2.2zM131.50 128.54h2.6l-1.3 2.2zM134.41 128.17h2.6l-1.3 2.2zM137.32 126.76h2.6l-1.3 2.2zM140.23 125.89h2.6l-1.3 2.2zM143.14 124.17h2.6l-1.3 2.2zM146.05 122.24h2.6l-1.3 2.2zM148.96 115.64h2.6l-1.3 2.2zM151.87 112.25h2.6l-1.3 2.2zM154.78 106.14h2.6l-1.3 2.2zM157.69 97.32h2.6l-1.3 2.2zM160.60 82.31h2.6l-1.3 2.2zM163.51 66.62h2.6l-1.3 2.2zM166.42 53.65h2.6l-1.3 2.2zM169.33 43.93h2.6l-1.3 2.2zM172.24 37.49h2.6l-1.3 2.2zM175.15 36.17h2.6l-1.3 2.2z" class="mk"/>
<polyline points="45.50,132.99 46.23,132.99 46.95,132.98 47.68,132.98 48.41,132.98 49.14,132.98 49.87,132.98 50.59,132.97 51.32,132.97 52.05,132.97 52.77,132.96 53.50,132.96 54.23,132.96 54.96,132.95 55.69,132.95 56.41,132.94 57.14,132.93 57.87,132.93 58.59,132.92 59.32,132.91 60.05,132.90 60.78,132.89 61.51,132.88 62.23,132.87 62.96,132.85 63.69,132.84 64.41,132.82 65.14,132.80 65.87,132.78 66.60,132.76 67.33,132.73 68.05,132.70 68.78,132.67 69.51,132.64 70.23,132.60 70.96,132.56 71.69,132.51 72.42,132.46 73.15,132.41 73.87,132.34 74.60,132.28 75.33,132.20 76.06,132.12 76.78,132.02 77.51,131.92 78.24,131.81 78.97,131.69 79.69,131.55 80.42,131.40 81.15,131.24 81.88,131.06 82.60,130.86 83.33,130.64 84.06,130.39 84.78,130.13 85.51,129.84 86.24,129.52 86.97,129.16 87.69,128.78 88.42,128.35 89.15,127.89 89.88,127.39 90.61,126.83 91.33,126.23 92.06,125.57 92.79,124.86 93.52,124.08 94.24,123.24 94.97,122.33 95.70,121.34 96.43,120.28 97.15,119.13 97.88,117.90 98.61,116.59 99.34,115.18 100.06,113.68 100.79,112.09 101.52,110.41 102.25,108.64 102.97,106.78 103.70,104.83 104.43,102.79 105.16,100.69 105.88,98.51 106.61,96.27 107.34,93.97 108.06,91.63 108.79,89.26 109.52,86.87 110.25,84.47 110.98,82.07 111.70,79.69 112.43,77.33 113.16,75.01 113.89,72.73 114.61,70.51 115.34,68.36 116.07,66.28 116.80,64.28 117.52,62.37 118.25,60.54 118.98,58.80 119.70,57.16 120.43,55.61 121.16,54.15 121.89,52.78 122.62,51.49 123.34,50.30 124.07,49.19 124.80,48.16 125.53,47.20 126.25,46.31 126.98,45.50 127.71,44.75 128.44,44.06 129.16,43.42 129.89,42.84 130.62,42.31 131.34,41.82 132.07,41.37 132.80,40.96 133.53,40.59 134.25,40.25 134.98,39.94 135.13,39.89" class="dot"/>
<polyline points="115.34,132.99 116.07,132.99 116.80,132.99 117.52,132.99 118.25,132.99 118.98,132.99 119.70,132.99 120.43,132.98 121.16,132.98 121.89,132.98 122.62,132.97 123.34,132.97 124.07,132.96 124.80,132.96 125.53,132.95 126.25,132.94 126.98,132.93 127.71,132.92 128.44,132.91 129.16,132.90 129.89,132.88 130.62,132.86 131.34,132.83 132.07,132.81 132.80,132.78 133.53,132.74 134.25,132.70 134.98,132.65 135.71,132.59 136.44,132.52 137.17,132.45 137.89,132.36 138.62,132.25 139.35,132.13 140.07,131.99 140.80,131.83 141.53,131.64 142.26,131.42 142.99,131.17 143.71,130.87 144.44,130.53 145.17,130.14 145.90,129.69 146.62,129.17 147.35,128.57 148.08,127.89 148.81,127.10 149.53,126.20 150.26,125.18 150.99,124.02 151.72,122.71 152.44,121.24 153.17,119.58 153.90,117.73 154.62,115.69 155.35,113.43 156.08,110.96 156.81,108.28 157.54,105.40 158.26,102.33 158.99,99.08 159.72,95.69 160.44,92.18 161.17,88.58 161.90,84.95 162.63,81.32 163.36,77.72 164.08,74.21 164.81,70.82 165.54,67.57 166.26,64.50 166.99,61.62 167.72,58.94 168.45,56.47 169.18,54.21 169.90,52.17 170.63,50.32 171.36,48.66 172.09,47.19 172.81,45.88 173.54,44.72 174.27,43.70 175.00,42.80 175.29,42.47" class="dash"/>
<path d="M68.78 130.16V134.00M67.58 130.16h2.4M67.58 134.00h2.4M71.69 129.64V133.48M70.49 129.64h2.4M70.49 133.48h2.4M74.60 129.32V133.17M73.40 129.32h2.4M73.40 133.17h2.4M77.51 129.57V133.41M76.31 129.57h2.4M76.31 133.41h2.4M80.42 129.74V133.59M79.22 129.74h2.4M79.22 133.59h2.4M83.33 129.39V133.23M82.13 129.39h2.4M82.13 133.23h2.4M86.24 129.48V133.61M85.04 129.48h2.4M85.04 133.61h2.4M89.15 128.79V133.21M87.95 128.79h2.4M87.95 133.21h2.4M92.06 127.89V132.60M90.86 127.89h2.4M90.86 132.60h2.4M94.97 127.99V132.99M93.77 127.99h2.4M93.77 132.99h2.4M97.88 127.86V133.15M96.68 127.86h2.4M96.68 133.15h2.4M100.79 126.28V131.86M99.59 126.28h2.4M99.59 131.86h2.4M103.70 126.07V131.93M102.50 126.07h2.4M102.50 131.93h2.4M106.61 126.09V132.24M105.41 126.09h2.4M105.41 132.24h2.4M109.52 125.53V131.97M108.32 125.53h2.4M108.32 131.97h2.4M112.43 124.68V131.40M111.23 124.68h2.4M111.23 131.40h2.4M115.34 123.89V130.91M114.14 123.89h2.4M114.14 130.91h2.4M118.25 123.68V130.98M117.05 123.68h2.4M117.05 130.98h2.4M121.16 123.08V130.68M119.96 123.08h2.4M119.96 130.68h2.4M124.07 121.63V129.51M122.87 121.63h2.4M122.87 129.51h2.4M126.98 119.33V127.50M125.78 119.33h2.4M125.78 127.50h2.4M129.89 118.64V127.10M128.69 118.64h2.4M128.69 127.10h2.4M132.80 116.04V124.78M131.60 116.04h2.4M131.60 124.78h2.4M135.71 113.57V122.60M134.51 113.57h2.4M134.51 122.60h2.4M138.62 109.63V118.95M137.42 109.63h2.4M137.42 118.95h2.4M141.53 104.40V114.01M140.33 104.40h2.4M140.33 114.01h2.4M144.44 96.96V106.86M143.24 96.96h2.4M143.24 106.86h2.4M147.35 90.75V95.55M146.15 90.75h2.4M146.15 95.55h2.4M150.26 79.61V84.42M149.06 79.61h2.4M149.06 84.42h2.4M153.17 66.24V71.04M151.97 66.24h2.4M151.97 71.04h2.4M156.08 55.20V60.01M154.88 55.20h2.4M154.88 60.01h2.4M158.99 47.11V51.91M157.79 47.11h2.4M157.79 51.91h2.4M161.90 42.80V47.60M160.70 42.80h2.4M160.70 47.60h2.4M164.81 39.79V44.60M163.61 39.79h2.4M163.61 44.60h2.4" class="eb"/><path d="M67.48 131.18h2.6l-1.3 2.2zM70.39 130.66h2.6l-1.3 2.2zM73.30 130.35h2.6l-1.3 2.2zM76.21 130.59h2.6l-1.3 2.2zM79.12 130.77h2.6l-1.3 2.2zM82.03 130.41h2.6l-1.3 2.2zM84.94 130.65h2.6l-1.3 2.2zM87.85 130.10h2.6l-1.3 2.2zM90.76 129.35h2.6l-1.3 2.2zM93.67 129.59h2.6l-1.3 2.2zM96.58 129.61h2.6l-1.3 2.2zM99.49 128.17h2.6l-1.3 2.2zM102.40 128.10h2.6l-1.3 2.2zM105.31 128.27h2.6l-1.3 2.2zM108.22 127.85h2.6l-1.3 2.2zM111.13 127.14h2.6l-1.3 2.2zM114.04 126.50h2.6l-1.3 2.2zM116.95 126.43h2.6l-1.3 2.2zM119.86 125.98h2.6l-1.3 2.2zM122.77 124.67h2.6l-1.3 2.2zM125.68 122.51h2.6l-1.3 2.2zM128.59 121.97h2.6l-1.3 2.2zM131.50 119.51h2.6l-1.3 2.2zM134.41 117.19h2.6l-1.3 2.2zM137.32 113.39h2.6l-1.3 2.2zM140.23 108.31h2.6l-1.3 2.2zM143.14 101.01h2.6l-1.3 2.2zM146.05 92.25h2.6l-1.3 2.2zM148.96 81.11h2.6l-1.3 2.2zM151.87 67.74h2.6l-1.3 2.2zM154.78 56.70h2.6l-1.3 2.2zM157.69 48.61h2.6l-1.3 2.2zM160.60 44.30h2.6l-1.3 2.2zM163.51 41.29h2.6l-1.3 2.2z" class="mk"/>
<path d="M68.78 129.72V133.56M67.58 129.72h2.4M67.58 133.56h2.4M71.69 129.78V133.62M70.49 129.78h2.4M70.49 133.62h2.4M74.60 129.32V133.17M73.40 129.32h2.4M73.40 133.17h2.4M77.51 130.33V134.17M76.31 130.33h2.4M76.31 134.17h2.4M80.42 129.78V133.63M79.22 129.78h2.4M79.22 133.63h2.4M83.33 129.79V133.64M82.13 129.79h2.4M82.13 133.64h2.4M86.24 129.93V134.06M85.04 129.93h2.4M85.04 134.06h2.4M89.15 128.05V132.47M87.95 128.05h2.4M87.95 132.47h2.4M92.06 128.77V133.48M90.86 128.77h2.4M90.86 133.48h2.4M94.97 128.53V133.52M93.77 128.53h2.4M93.77 133.52h2.4M97.88 127.51V132.79M96.68 127.51h2.4M96.68 132.79h2.4M100.79 127.55V133.12M99.59 127.55h2.4M99.59 133.12h2.4M103.70 126.40V132.27M102.50 126.40h2.4M102.50 132.27h2.4M106.61 126.39V132.54M105.41 126.39h2.4M105.41 132.54h2.4M109.52 126.28V132.72M108.32 126.28h2.4M108.32 132.72h2.4M112.43 125.93V132.65M111.23 125.93h2.4M111.23 132.65h2.4M115.34 124.41V131.43M114.14 124.41h2.4M114.14 131.43h2.4M118.25 124.60V131.90M117.05 124.60h2.4M117.05 131.90h2.4M121.16 123.26V130.85M119.96 123.26h2.4M119.96 130.85h2.4M124.07 123.12V131.00M122.87 123.12h2.4M122.87 131.00h2.4M126.98 121.65V129.82M125.78 121.65h2.4M125.78 129.82h2.4M129.89 121.67V130.13M128.69 121.67h2.4M128.69 130.13h2.4M132.80 120.49V129.23M131.60 120.49h2.4M131.60 129.23h2.4M135.71 118.71V127.74M134.51 118.71h2.4M134.51 127.74h2.4M138.62 115.61V124.94M137.42 115.61h2.4M137.42 124.94h2.4M141.53 112.50V122.11M140.33 112.50h2.4M140.33 122.11h2.4M144.44 107.62V117.52M143.24 107.62h2.4M143.24 117.52h2.4M147.35 99.70V109.88M146.15 99.70h2.4M146.15 109.88h2.4M150.26 89.20V94.01M149.06 89.20h2.4M149.06 94.01h2.4M153.17 74.09V78.90M151.97 74.09h2.4M151.97 78.90h2.4M156.08 60.42V65.23M154.88 60.42h2.4M154.88 65.23h2.4M158.99 50.85V55.66M157.79 50.85h2.4M157.79 55.66h2.4M161.90 44.06V48.87M160.70 44.06h2.4M160.70 48.87h2.4M164.81 40.01V44.82M163.61 40.01h2.4M163.61 44.82h2.4" class="eb"/><path d="M67.48 130.74h2.6l-1.3 2.2zM70.39 130.80h2.6l-1.3 2.2zM73.30 130.35h2.6l-1.3 2.2zM76.21 131.35h2.6l-1.3 2.2zM79.12 130.81h2.6l-1.3 2.2zM82.03 130.82h2.6l-1.3 2.2zM84.94 131.10h2.6l-1.3 2.2zM87.85 129.36h2.6l-1.3 2.2zM90.76 130.22h2.6l-1.3 2.2zM93.67 130.13h2.6l-1.3 2.2zM96.58 129.25h2.6l-1.3 2.2zM99.49 129.43h2.6l-1.3 2.2zM102.40 128.44h2.6l-1.3 2.2zM105.31 128.56h2.6l-1.3 2.2zM108.22 128.60h2.6l-1.3 2.2zM111.13 128.39h2.6l-1.3 2.2zM114.04 127.02h2.6l-1.3 2.2zM116.95 127.35h2.6l-1.3 2.2zM119.86 126.15h2.6l-1.3 2.2zM122.77 126.16h2.6l-1.3 2.2zM125.68 124.83h2.6l-1.3 2.2zM128.59 125.00h2.6l-1.3 2.2zM131.50 123.96h2.6l-1.3 2.2zM134.41 122.33h2.6l-1.3 2.2zM137.32 119.37h2.6l-1.3 2.2zM140.23 116.40h2.6l-1.3 2.2zM143.14 111.67h2.6l-1.3 2.2zM146.05 103.89h2.6l-1.3 2.2zM148.96 90.71h2.6l-1.3 2.2zM151.87 75.59h2.6l-1.3 2.2zM154.78 61.92h2.6l-1.3 2.2zM157.69 52.36h2.6l-1.3 2.2zM160.60 45.56h2.6l-1.3 2.2zM163.51 41.51h2.6l-1.3 2.2z" class="mk"/>
<polyline points="45.50,133.00 46.23,133.00 46.95,133.00 47.68,133.00 48.41,133.00 49.14,133.00 49.87,133.00 50.59,133.00 51.32,133.00 52.05,133.00 52.77,133.00 53.50,133.00 54.23,133.00 54.96,133.00 55.69,133.00 56.41,133.00 57.14,133.00 57.87,133.00 58.59,133.00 59.32,133.00 60.05,133.00 60.78,133.00 61.51,133.00 62.23,133.00 62.96,133.00 63.69,133.00 64.41,133.00 65.14,133.00 65.87,133.00 66.60,133.00 67.33,133.00 68.05,133.00 68.78,133.00 69.51,133.00 70.23,133.00 70.96,133.00 71.69,133.00 72.42,133.00 73.15,133.00 73.87,132.99 74.60,132.99 75.33,132.99 76.06,132.99 76.78,132.99 77.51,132.99 78.24,132.99 78.97,132.99 79.69,132.99 80.42,132.99 81.15,132.99 81.88,132.99 82.60,132.98 83.33,132.98 84.06,132.98 84.78,132.98 85.51,132.98 86.24,132.98 86.97,132.97 87.69,132.97 88.42,132.97 89.15,132.96 89.88,132.96 90.61,132.96 91.33,132.95 92.06,132.95 92.79,132.94 93.52,132.94 94.24,132.93 94.97,132.93 95.70,132.92 96.43,132.91 97.15,132.91 97.88,132.90 98.61,132.89 99.34,132.88 100.06,132.86 100.79,132.85 101.52,132.84 102.25,132.82 102.97,132.81 103.70,132.79 104.43,132.77 105.16,132.75 105.88,132.72 106.61,132.70 107.34,132.67 108.06,132.64 108.79,132.60 109.52,132.57 110.25,132.53 110.98,132.48 111.70,132.43 112.43,132.38 113.16,132.32 113.89,132.26 114.61,132.19 115.34,132.12 116.07,132.03 116.80,131.95 117.52,131.85 118.25,131.74 118.98,131.62 119.70,131.50 120.43,131.36 121.16,131.21 121.89,131.04 122.62,130.86 123.34,130.67 124.07,130.46 124.80,130.22 125.53,129.97 126.25,129.70 126.98,129.40 127.71,129.08 128.44,128.75 129.16,128.42 129.89,128.07 130.62,127.67 131.34,127.24 132.07,126.77 132.80,126.25 133.53,125.67 134.25,125.04 134.98,124.35 135.71,123.60 136.44,122.77 137.17,121.87 137.89,120.88 138.62,119.81 139.35,118.64 140.07,117.38 140.80,116.01 141.53,114.52 142.26,112.91 142.99,111.17 143.71,109.28 144.44,107.25 145.17,105.07 145.90,102.72 146.62,100.22 147.35,97.55 148.08,94.73 148.81,91.77 149.53,88.67 150.26,85.36 150.99,81.83 151.72,78.20 152.44,74.56 153.17,71.01 153.90,67.63 154.62,64.50 155.35,61.67 156.08,59.09 156.81,56.72 157.54,54.54 158.26,52.57 158.99,50.79 159.72,49.18 160.44,47.75 161.17,46.47 161.90,45.33 162.63,44.33 163.36,43.44 164.08,42.65 164.81,41.96 165.54,41.35 166.26,40.82 166.99,40.35 167.14,40.26" class="sol"/>
<polyline points="45.50,133.00 46.23,133.00 46.95,133.00 47.68,133.00 48.41,133.00 49.14,133.00 49.87,133.00 50.59,133.00 51.32,133.00 52.05,133.00 52.77,133.00 53.50,133.00 54.23,133.00 54.96,133.00 55.69,133.00 56.41,133.00 57.14,133.00 57.87,133.00 58.59,133.00 59.32,133.00 60.05,133.00 60.78,133.00 61.51,133.00 62.23,133.00 62.96,133.00 63.69,133.00 64.41,133.00 65.14,133.00 65.87,133.00 66.60,133.00 67.33,133.00 68.05,133.00 68.78,133.00 69.51,133.00 70.23,133.00 70.96,133.00 71.69,133.00 72.42,133.00 73.15,133.00 73.87,133.00 74.60,133.00 75.33,133.00 76.06,133.00 76.78,133.00 77.51,133.00 78.24,133.00 78.97,133.00 79.69,133.00 80.42,133.00 81.15,133.00 81.88,133.00 82.60,133.00 83.33,133.00 84.06,133.00 84.78,133.00 85.51,133.00 86.24,133.00 86.97,133.00 87.69,133.00 88.42,133.00 89.15,133.00 89.88,133.00 90.61,133.00 91.33,133.00 92.06,133.00 92.79,133.00 93.52,133.00 94.24,133.00 94.97,133.00 95.70,133.00 96.43,132.99 97.15,132.99 97.88,132.99 98.61,132.99 99.34,132.99 100.06,132.99 100.79,132.99 101.52,132.99 102.25,132.99 102.97,132.98 103.70,132.98 104.43,132.98 105.16,132.98 105.88,132.97 106.61,132.97 107.34,132.97 108.06,132.96 108.79,132.96 109.52,132.95 110.25,132.95 110.98,132.94 111.70,132.93 112.43,132.92 113.16,132.91 113.89,132.90 114.61,132.89 115.34,132.87 116.07,132.86 116.80,132.84 117.52,132.82 118.25,132.80 118.98,132.77 119.70,132.74 120.43,132.70 121.16,132.67 121.89,132.62 122.62,132.57 123.34,132.52 124.07,132.46 124.80,132.38 125.53,132.30 126.25,132.21 126.98,132.11 127.71,132.00 128.44,131.87 129.16,131.72 129.89,131.56 130.62,131.37 131.34,131.16 132.07,130.93 132.80,130.66 133.53,130.37 134.25,130.03 134.98,129.66 135.71,129.24 136.44,128.79 137.17,128.34 137.89,127.84 138.62,127.26 139.35,126.61 140.07,125.86 140.80,125.01 141.53,124.04 142.26,122.94 142.99,121.69 143.71,120.29 144.44,118.71 145.17,116.94 145.90,114.95 146.62,112.67 147.35,110.09 148.08,107.21 148.81,104.03 149.53,100.59 150.26,96.93 150.99,93.10 151.72,89.18 152.44,85.16 153.17,81.06 153.90,76.96 154.62,72.95 155.35,69.12 156.08,65.54 156.81,62.26 157.54,59.27 158.26,56.55 158.99,54.09 159.72,51.89 160.44,49.93 161.17,48.20 161.90,46.68 162.63,45.35 163.36,44.20 164.08,43.19 164.81,42.32 165.54,41.57 166.26,40.92 166.99,40.37 167.14,40.26" class="sol"/></g>
<text x="64.2" y="23" class="an" text-anchor="start">D1596A/N1602A</text>
<path d="M160.40 24.10L163.17 29.17" class="arl"/><path d="M165.00 32.50L160.72 29.37L162.79 28.47L164.67 27.21Z" class="arh"/>
<path d="M173.50 24.10L170.93 29.12" class="arl"/><path d="M169.20 32.50L169.38 27.20L171.30 28.41L173.39 29.25Z" class="arh"/>
<text x="203.5" y="23" class="an" text-anchor="middle">D1596A/</text>
<text x="203.5" y="38.1" class="an" text-anchor="middle">N1602A</text>
<text x="203.5" y="52.0" class="an" text-anchor="middle">+CaCl<tspan class="sub" dy="3" dx="1">2</tspan></text>
<text x="66.2" y="68.1" class="sm" text-anchor="start">A2VicCC</text>
<text x="170" y="85.7" class="sm" text-anchor="start">A2VicCC+CaCl<tspan class="sub" dy="3" dx="1">2</tspan></text>
</g>
<g transform="translate(265,555.5)">
<text x="0.10000000000000009" y="20.3" class="pl">G</text>
<g transform="translate(0,0.6)"><path d="M45.5 27.29V142.61M45.5 133.0H176.45" class="ax"/>
<path d="M42.0 133.00H45.5" class="ax"/>
<text x="39.3" y="137.90" class="tk" text-anchor="end">0</text>
<path d="M42.0 113.78H45.5" class="ax"/>
<text x="39.3" y="118.68" class="tk" text-anchor="end">20</text>
<path d="M42.0 94.56H45.5" class="ax"/>
<text x="39.3" y="99.46" class="tk" text-anchor="end">40</text>
<path d="M42.0 75.34H45.5" class="ax"/>
<text x="39.3" y="80.24" class="tk" text-anchor="end">60</text>
<path d="M42.0 56.12H45.5" class="ax"/>
<text x="39.3" y="61.02" class="tk" text-anchor="end">80</text>
<path d="M42.0 36.90H45.5" class="ax"/>
<text x="39.3" y="41.80" class="tk" text-anchor="end">100</text>
<path d="M60.05 133.0V137.0" class="ax"/>
<text x="60.05" y="153.7" class="tk" text-anchor="middle">30</text>
<path d="M89.15 133.0V137.0" class="ax"/>
<text x="89.15" y="153.7" class="tk" text-anchor="middle">40</text>
<path d="M118.25 133.0V137.0" class="ax"/>
<text x="118.25" y="153.7" class="tk" text-anchor="middle">50</text>
<path d="M147.35 133.0V137.0" class="ax"/>
<text x="147.35" y="153.7" class="tk" text-anchor="middle">60</text>
<path d="M176.45 133.0V137.0" class="ax"/>
<text x="176.45" y="153.7" class="tk" text-anchor="middle">70</text>
<text x="111.5" y="170.5" class="al" text-anchor="middle">Temperature (°C)</text>
<text transform="translate(11.8,77.7) rotate(-90)" class="al" text-anchor="middle">FU (%)</text>
<path d="M57.14 129.02V132.48M55.94 129.02h2.4M55.94 132.48h2.4M60.05 129.20V132.66M58.85 129.20h2.4M58.85 132.66h2.4M62.96 129.12V132.58M61.76 129.12h2.4M61.76 132.58h2.4M65.87 128.13V131.59M64.67 128.13h2.4M64.67 131.59h2.4M68.78 127.65V131.11M67.58 127.65h2.4M67.58 131.11h2.4M71.69 128.57V132.03M70.49 128.57h2.4M70.49 132.03h2.4M74.60 127.15V130.61M73.40 127.15h2.4M73.40 130.61h2.4M77.51 127.58V131.04M76.31 127.58h2.4M76.31 131.04h2.4M80.42 126.58V130.04M79.22 126.58h2.4M79.22 130.04h2.4M83.33 125.67V129.13M82.13 125.67h2.4M82.13 129.13h2.4M86.24 124.55V128.01M85.04 124.55h2.4M85.04 128.01h2.4M89.15 124.38V127.84M87.95 124.38h2.4M87.95 127.84h2.4M92.06 121.74V125.20M90.86 121.74h2.4M90.86 125.20h2.4M94.97 118.14V121.60M93.77 118.14h2.4M93.77 121.60h2.4M97.88 113.35V116.81M96.68 113.35h2.4M96.68 116.81h2.4M100.79 109.04V112.50M99.59 109.04h2.4M99.59 112.50h2.4M103.70 101.67V105.13M102.50 101.67h2.4M102.50 105.13h2.4M106.61 92.49V95.94M105.41 92.49h2.4M105.41 95.94h2.4M109.52 84.44V87.89M108.32 84.44h2.4M108.32 87.89h2.4M112.43 74.61V78.07M111.23 74.61h2.4M111.23 78.07h2.4M115.34 64.60V68.06M114.14 64.60h2.4M114.14 68.06h2.4M118.25 55.24V58.70M117.05 55.24h2.4M117.05 58.70h2.4M121.16 47.61V51.07M119.96 47.61h2.4M119.96 51.07h2.4M124.07 43.43V46.31M122.87 43.43h2.4M122.87 46.31h2.4M126.98 38.36V41.25M125.78 38.36h2.4M125.78 41.25h2.4M129.89 35.34V38.22M128.69 35.34h2.4M128.69 38.22h2.4M132.80 34.65V37.54M131.60 34.65h2.4M131.60 37.54h2.4" class="ebw"/><path d="M55.84 129.85h2.6l-1.3 2.2zM58.75 130.03h2.6l-1.3 2.2zM61.66 129.95h2.6l-1.3 2.2zM64.57 128.96h2.6l-1.3 2.2zM67.48 128.48h2.6l-1.3 2.2zM70.39 129.40h2.6l-1.3 2.2zM73.30 127.98h2.6l-1.3 2.2zM76.21 128.41h2.6l-1.3 2.2zM79.12 127.41h2.6l-1.3 2.2zM82.03 126.50h2.6l-1.3 2.2zM84.94 125.38h2.6l-1.3 2.2zM87.85 125.21h2.6l-1.3 2.2zM90.76 122.57h2.6l-1.3 2.2zM93.67 118.97h2.6l-1.3 2.2zM96.58 114.18h2.6l-1.3 2.2zM99.49 109.87h2.6l-1.3 2.2zM102.40 102.50h2.6l-1.3 2.2zM105.31 93.32h2.6l-1.3 2.2zM108.22 85.27h2.6l-1.3 2.2zM111.13 75.44h2.6l-1.3 2.2zM114.04 65.43h2.6l-1.3 2.2zM116.95 56.07h2.6l-1.3 2.2zM119.86 48.44h2.6l-1.3 2.2zM122.77 43.97h2.6l-1.3 2.2zM125.68 38.90h2.6l-1.3 2.2zM128.59 35.88h2.6l-1.3 2.2zM131.50 35.20h2.6l-1.3 2.2z" class="mk"/>
<path d="M121.16 126.36V138.47M119.96 126.36h2.4M119.96 138.47h2.4M124.07 124.88V137.63M122.87 124.88h2.4M122.87 137.63h2.4M126.98 124.82V138.20M125.78 124.82h2.4M125.78 138.20h2.4M129.89 123.79V137.80M128.69 123.79h2.4M128.69 137.80h2.4M132.80 123.08V137.73M131.60 123.08h2.4M131.60 137.73h2.4M135.71 121.16V136.44M134.51 121.16h2.4M134.51 136.44h2.4M138.62 120.39V136.30M137.42 120.39h2.4M137.42 136.30h2.4M141.53 119.20V135.75M140.33 119.20h2.4M140.33 135.75h2.4M144.44 117.36V134.54M143.24 117.36h2.4M143.24 134.54h2.4M147.35 113.65V131.47M146.15 113.65h2.4M146.15 131.47h2.4M150.26 108.97V124.73M149.06 108.97h2.4M149.06 124.73h2.4M153.17 106.86V120.12M151.97 106.86h2.4M151.97 120.12h2.4M156.08 102.39V113.15M154.88 102.39h2.4M154.88 113.15h2.4M158.99 94.01V102.27M157.79 94.01h2.4M157.79 102.27h2.4M161.90 81.25V87.02M160.70 81.25h2.4M160.70 87.02h2.4M164.81 64.29V70.05M163.61 64.29h2.4M163.61 70.05h2.4M167.72 51.80V57.57M166.52 51.80h2.4M166.52 57.57h2.4M170.63 41.29V47.06M169.43 41.29h2.4M169.43 47.06h2.4M173.54 34.46V40.22M172.34 34.46h2.4M172.34 40.22h2.4M176.45 33.46V39.22M175.25 33.46h2.4M175.25 39.22h2.4" class="eb"/><path d="M119.86 131.52h2.6l-1.3 2.2zM122.77 130.36h2.6l-1.3 2.2zM125.68 130.61h2.6l-1.3 2.2zM128.59 129.90h2.6l-1.3 2.2zM131.50 129.51h2.6l-1.3 2.2zM134.41 127.90h2.6l-1.3 2.2zM137.32 127.44h2.6l-1.3 2.2zM140.23 126.58h2.6l-1.3 2.2zM143.14 125.05h2.6l-1.3 2.2zM146.05 121.66h2.6l-1.3 2.2zM148.96 115.95h2.6l-1.3 2.2zM151.87 112.59h2.6l-1.3 2.2zM154.78 106.87h2.6l-1.3 2.2zM157.69 97.24h2.6l-1.3 2.2zM160.60 83.24h2.6l-1.3 2.2zM163.51 66.27h2.6l-1.3 2.2zM166.42 53.78h2.6l-1.3 2.2zM169.33 43.28h2.6l-1.3 2.2zM172.24 36.44h2.6l-1.3 2.2zM175.15 35.44h2.6l-1.3 2.2z" class="mk"/>
<polyline points="45.50,132.99 46.23,132.99 46.95,132.98 47.68,132.98 48.41,132.98 49.14,132.98 49.87,132.98 50.59,132.97 51.32,132.97 52.05,132.97 52.77,132.96 53.50,132.96 54.23,132.96 54.96,132.95 55.69,132.95 56.41,132.94 57.14,132.94 57.87,132.93 58.59,132.92 59.32,132.91 60.05,132.90 60.78,132.89 61.51,132.88 62.23,132.87 62.96,132.86 63.69,132.84 64.41,132.82 65.14,132.81 65.87,132.78 66.60,132.76 67.33,132.74 68.05,132.71 68.78,132.68 69.51,132.65 70.23,132.61 70.96,132.57 71.69,132.52 72.42,132.47 73.15,132.42 73.87,132.36 74.60,132.29 75.33,132.22 76.06,132.13 76.78,132.04 77.51,131.94 78.24,131.83 78.97,131.71 79.69,131.58 80.42,131.43 81.15,131.27 81.88,131.09 82.60,130.90 83.33,130.68 84.06,130.44 84.78,130.18 85.51,129.90 86.24,129.58 86.97,129.24 87.69,128.86 88.42,128.44 89.15,127.99 89.88,127.49 90.61,126.95 91.33,126.36 92.06,125.71 92.79,125.01 93.52,124.24 94.24,123.41 94.97,122.52 95.70,121.54 96.43,120.50 97.15,119.37 97.88,118.16 98.61,116.86 99.34,115.47 100.06,113.99 100.79,112.42 101.52,110.76 102.25,109.00 102.97,107.15 103.70,105.22 104.43,103.21 105.16,101.11 105.88,98.95 106.61,96.72 107.34,94.43 108.06,92.10 108.79,89.74 109.52,87.35 110.25,84.95 110.98,82.55 111.70,80.16 112.43,77.80 113.16,75.47 113.89,73.18 114.61,70.95 115.34,68.79 116.07,66.69 116.80,64.68 117.52,62.75 118.25,60.90 118.98,59.14 119.70,57.48 120.43,55.91 121.16,54.43 121.89,53.04 122.62,51.74 123.34,50.53 124.07,49.40 124.80,48.36 125.53,47.38 126.25,46.49 126.98,45.66 127.71,44.89 128.44,44.19 129.16,43.54 129.89,42.95 130.62,42.41 131.34,41.91 132.07,41.46 132.80,41.04 133.53,40.66 134.25,40.32 134.98,40.00 135.13,39.94" class="dot"/>
<polyline points="115.34,132.99 116.07,132.99 116.80,132.99 117.52,132.99 118.25,132.99 118.98,132.99 119.70,132.99 120.43,132.98 121.16,132.98 121.89,132.98 122.62,132.97 123.34,132.97 124.07,132.96 124.80,132.96 125.53,132.95 126.25,132.94 126.98,132.93 127.71,132.92 128.44,132.91 129.16,132.90 129.89,132.88 130.62,132.86 131.34,132.83 132.07,132.81 132.80,132.78 133.53,132.74 134.25,132.70 134.98,132.65 135.71,132.59 136.44,132.52 137.17,132.45 137.89,132.36 138.62,132.25 139.35,132.13 140.07,131.99 140.80,131.83 141.53,131.64 142.26,131.42 142.99,131.17 143.71,130.87 144.44,130.53 145.17,130.14 145.90,129.69 146.62,129.17 147.35,128.57 148.08,127.89 148.81,127.10 149.53,126.20 150.26,125.18 150.99,124.02 151.72,122.71 152.44,121.24 153.17,119.58 153.90,117.73 154.62,115.69 155.35,113.43 156.08,110.96 156.81,108.28 157.54,105.40 158.26,102.33 158.99,99.08 159.72,95.69 160.44,92.18 161.17,88.58 161.90,84.95 162.63,81.32 163.36,77.72 164.08,74.21 164.81,70.82 165.54,67.57 166.26,64.50 166.99,61.62 167.72,58.94 168.45,56.47 169.18,54.21 169.90,52.17 170.63,50.32 171.36,48.66 172.09,47.19 172.81,45.88 173.54,44.72 174.27,43.70 175.00,42.80 175.29,42.47" class="dash"/>
<path d="M60.05 130.94V135.17M58.85 130.94h2.4M58.85 135.17h2.4M62.96 130.44V134.67M61.76 130.44h2.4M61.76 134.67h2.4M65.87 129.22V133.45M64.67 129.22h2.4M64.67 133.45h2.4M68.78 129.23V133.46M67.58 129.23h2.4M67.58 133.46h2.4M71.69 128.55V132.78M70.49 128.55h2.4M70.49 132.78h2.4M74.60 128.21V132.44M73.40 128.21h2.4M73.40 132.44h2.4M77.51 128.48V132.71M76.31 128.48h2.4M76.31 132.71h2.4M80.42 127.61V131.84M79.22 127.61h2.4M79.22 131.84h2.4M83.33 127.60V131.83M82.13 127.60h2.4M82.13 131.83h2.4M86.24 127.83V132.06M85.04 127.83h2.4M85.04 132.06h2.4M89.15 127.21V131.44M87.95 127.21h2.4M87.95 131.44h2.4M92.06 126.85V131.08M90.86 126.85h2.4M90.86 131.08h2.4M94.97 125.16V129.39M93.77 125.16h2.4M93.77 129.39h2.4M97.88 122.60V126.83M96.68 122.60h2.4M96.68 126.83h2.4M100.79 121.51V125.73M99.59 121.51h2.4M99.59 125.73h2.4M103.70 117.46V121.69M102.50 117.46h2.4M102.50 121.69h2.4M106.61 113.69V117.91M105.41 113.69h2.4M105.41 117.91h2.4M109.52 107.92V112.15M108.32 107.92h2.4M108.32 112.15h2.4M112.43 99.88V104.10M111.23 99.88h2.4M111.23 104.10h2.4M115.34 92.16V96.39M114.14 92.16h2.4M114.14 96.39h2.4M118.25 83.39V87.62M117.05 83.39h2.4M117.05 87.62h2.4M121.16 74.10V78.33M119.96 74.10h2.4M119.96 78.33h2.4M124.07 64.82V69.05M122.87 64.82h2.4M122.87 69.05h2.4M126.98 57.48V61.70M125.78 57.48h2.4M125.78 61.70h2.4M129.89 52.27V56.50M128.69 52.27h2.4M128.69 56.50h2.4M132.80 47.20V51.43M131.60 47.20h2.4M131.60 51.43h2.4M135.71 42.53V46.75M134.51 42.53h2.4M134.51 46.75h2.4M138.62 41.10V45.33M137.42 41.10h2.4M137.42 45.33h2.4M141.53 38.75V42.98M140.33 38.75h2.4M140.33 42.98h2.4" class="eb"/><path d="M58.75 132.15h2.6l-1.3 2.2zM61.66 131.66h2.6l-1.3 2.2zM64.57 130.44h2.6l-1.3 2.2zM67.48 130.44h2.6l-1.3 2.2zM70.39 129.76h2.6l-1.3 2.2zM73.30 129.43h2.6l-1.3 2.2zM76.21 129.69h2.6l-1.3 2.2zM79.12 128.83h2.6l-1.3 2.2zM82.03 128.82h2.6l-1.3 2.2zM84.94 129.05h2.6l-1.3 2.2zM87.85 128.43h2.6l-1.3 2.2zM90.76 128.07h2.6l-1.3 2.2zM93.67 126.38h2.6l-1.3 2.2zM96.58 123.82h2.6l-1.3 2.2zM99.49 122.72h2.6l-1.3 2.2zM102.40 118.68h2.6l-1.3 2.2zM105.31 114.90h2.6l-1.3 2.2zM108.22 109.14h2.6l-1.3 2.2zM111.13 101.09h2.6l-1.3 2.2zM114.04 93.37h2.6l-1.3 2.2zM116.95 84.61h2.6l-1.3 2.2zM119.86 75.32h2.6l-1.3 2.2zM122.77 66.03h2.6l-1.3 2.2zM125.68 58.69h2.6l-1.3 2.2zM128.59 53.49h2.6l-1.3 2.2zM131.50 48.42h2.6l-1.3 2.2zM134.41 43.74h2.6l-1.3 2.2zM137.32 42.32h2.6l-1.3 2.2zM140.23 39.96h2.6l-1.3 2.2z" class="mk"/>
<path d="M60.05 130.45V134.68M58.85 130.45h2.4M58.85 134.68h2.4M62.96 129.62V133.85M61.76 129.62h2.4M61.76 133.85h2.4M65.87 129.61V133.84M64.67 129.61h2.4M64.67 133.84h2.4M68.78 129.03V133.26M67.58 129.03h2.4M67.58 133.26h2.4M71.69 129.12V133.34M70.49 129.12h2.4M70.49 133.34h2.4M74.60 129.32V133.55M73.40 129.32h2.4M73.40 133.55h2.4M77.51 128.98V133.21M76.31 128.98h2.4M76.31 133.21h2.4M80.42 129.00V133.23M79.22 129.00h2.4M79.22 133.23h2.4M83.33 127.65V131.88M82.13 127.65h2.4M82.13 131.88h2.4M86.24 128.46V132.69M85.04 128.46h2.4M85.04 132.69h2.4M89.15 128.16V132.39M87.95 128.16h2.4M87.95 132.39h2.4M92.06 126.08V130.31M90.86 126.08h2.4M90.86 130.31h2.4M94.97 126.34V130.57M93.77 126.34h2.4M93.77 130.57h2.4M97.88 123.95V128.18M96.68 123.95h2.4M96.68 128.18h2.4M100.79 123.30V127.53M99.59 123.30h2.4M99.59 127.53h2.4M103.70 120.06V124.29M102.50 120.06h2.4M102.50 124.29h2.4M106.61 116.78V121.01M105.41 116.78h2.4M105.41 121.01h2.4M109.52 110.98V115.21M108.32 110.98h2.4M108.32 115.21h2.4M112.43 105.09V109.32M111.23 105.09h2.4M111.23 109.32h2.4M115.34 97.49V101.72M114.14 97.49h2.4M114.14 101.72h2.4M118.25 88.69V92.92M117.05 88.69h2.4M117.05 92.92h2.4M121.16 79.37V83.59M119.96 79.37h2.4M119.96 83.59h2.4M124.07 71.16V75.39M122.87 71.16h2.4M122.87 75.39h2.4M126.98 62.52V66.75M125.78 62.52h2.4M125.78 66.75h2.4M129.89 55.72V59.95M128.69 55.72h2.4M128.69 59.95h2.4M132.80 50.56V54.79M131.60 50.56h2.4M131.60 54.79h2.4M135.71 45.09V49.32M134.51 45.09h2.4M134.51 49.32h2.4M138.62 42.24V46.46M137.42 42.24h2.4M137.42 46.46h2.4M141.53 39.57V43.80M140.33 39.57h2.4M140.33 43.80h2.4" class="eb"/><path d="M58.75 131.67h2.6l-1.3 2.2zM61.66 130.83h2.6l-1.3 2.2zM64.57 130.82h2.6l-1.3 2.2zM67.48 130.25h2.6l-1.3 2.2zM70.39 130.33h2.6l-1.3 2.2zM73.30 130.54h2.6l-1.3 2.2zM76.21 130.20h2.6l-1.3 2.2zM79.12 130.22h2.6l-1.3 2.2zM82.03 128.87h2.6l-1.3 2.2zM84.94 129.67h2.6l-1.3 2.2zM87.85 129.38h2.6l-1.3 2.2zM90.76 127.30h2.6l-1.3 2.2zM93.67 127.56h2.6l-1.3 2.2zM96.58 125.17h2.6l-1.3 2.2zM99.49 124.52h2.6l-1.3 2.2zM102.40 121.27h2.6l-1.3 2.2zM105.31 117.99h2.6l-1.3 2.2zM108.22 112.20h2.6l-1.3 2.2zM111.13 106.30h2.6l-1.3 2.2zM114.04 98.70h2.6l-1.3 2.2zM116.95 89.90h2.6l-1.3 2.2zM119.86 80.58h2.6l-1.3 2.2zM122.77 72.37h2.6l-1.3 2.2zM125.68 63.73h2.6l-1.3 2.2zM128.59 56.93h2.6l-1.3 2.2zM131.50 51.78h2.6l-1.3 2.2zM134.41 46.31h2.6l-1.3 2.2zM137.32 43.45h2.6l-1.3 2.2zM140.23 40.79h2.6l-1.3 2.2z" class="mk"/>
<polyline points="45.50,132.99 46.23,132.99 46.95,132.99 47.68,132.99 48.41,132.99 49.14,132.99 49.87,132.99 50.59,132.99 51.32,132.99 52.05,132.99 52.77,132.99 53.50,132.98 54.23,132.98 54.96,132.98 55.69,132.98 56.41,132.98 57.14,132.98 57.87,132.97 58.59,132.97 59.32,132.97 60.05,132.96 60.78,132.96 61.51,132.96 62.23,132.95 62.96,132.95 63.69,132.94 64.41,132.93 65.14,132.93 65.87,132.92 66.60,132.91 67.33,132.90 68.05,132.89 68.78,132.88 69.51,132.87 70.23,132.86 70.96,132.84 71.69,132.83 72.42,132.81 73.15,132.79 73.87,132.77 74.60,132.74 75.33,132.72 76.06,132.69 76.78,132.66 77.51,132.62 78.24,132.58 78.97,132.54 79.69,132.49 80.42,132.44 81.15,132.38 81.88,132.32 82.60,132.25 83.33,132.17 84.06,132.09 84.78,131.99 85.51,131.89 86.24,131.78 86.97,131.66 87.69,131.52 88.42,131.37 89.15,131.20 89.88,131.02 90.61,130.82 91.33,130.60 92.06,130.36 92.79,130.10 93.52,129.81 94.24,129.50 94.97,129.15 95.70,128.77 96.43,128.36 97.15,127.90 97.88,127.41 98.61,126.87 99.34,126.28 100.06,125.64 100.79,124.95 101.52,124.20 102.25,123.38 102.97,122.50 103.70,121.54 104.43,120.52 105.16,119.41 105.88,118.23 106.61,116.96 107.34,115.61 108.06,114.17 108.79,112.64 109.52,111.02 110.25,109.32 110.98,107.52 111.70,105.65 112.43,103.69 113.16,101.65 113.89,99.55 114.61,97.38 115.34,95.16 116.07,92.88 116.80,90.58 117.52,88.24 118.25,85.89 118.98,83.54 119.70,81.19 120.43,78.86 121.16,76.56 121.89,74.30 122.62,72.08 123.34,69.93 124.07,67.83 124.80,65.81 125.53,63.87 126.25,62.01 126.98,60.24 127.71,58.55 128.44,56.95 129.16,55.44 129.89,54.01 130.62,52.68 131.34,51.43 132.07,50.26 132.80,49.17 133.53,48.16 134.25,47.22 134.98,46.35 135.71,45.55 136.44,44.81 137.17,44.12 137.89,43.50 138.62,42.92 139.35,42.39 140.07,41.90 140.80,41.46 141.53,41.05" class="sol"/>
<polyline points="45.50,133.00 46.23,133.00 46.95,133.00 47.68,132.99 48.41,132.99 49.14,132.99 49.87,132.99 50.59,132.99 51.32,132.99 52.05,132.99 52.77,132.99 53.50,132.99 54.23,132.99 54.96,132.99 55.69,132.98 56.41,132.98 57.14,132.98 57.87,132.98 58.59,132.98 59.32,132.98 60.05,132.97 60.78,132.97 61.51,132.97 62.23,132.96 62.96,132.96 63.69,132.96 64.41,132.95 65.14,132.95 65.87,132.94 66.60,132.93 67.33,132.93 68.05,132.92 68.78,132.91 69.51,132.90 70.23,132.89 70.96,132.88 71.69,132.87 72.42,132.85 73.15,132.84 73.87,132.82 74.60,132.80 75.33,132.78 76.06,132.76 76.78,132.74 77.51,132.71 78.24,132.68 78.97,132.65 79.69,132.61 80.42,132.57 81.15,132.53 81.88,132.48 82.60,132.43 83.33,132.37 84.06,132.30 84.78,132.23 85.51,132.16 86.24,132.07 86.97,131.97 87.69,131.87 88.42,131.76 89.15,131.63 89.88,131.49 90.61,131.34 91.33,131.17 92.06,130.98 92.79,130.78 93.52,130.56 94.24,130.31 94.97,130.05 95.70,129.75 96.43,129.43 97.15,129.08 97.88,128.69 98.61,128.27 99.34,127.81 100.06,127.30 100.79,126.76 101.52,126.16 102.25,125.51 102.97,124.80 103.70,124.04 104.43,123.21 105.16,122.31 105.88,121.35 106.61,120.30 107.34,119.18 108.06,117.98 108.79,116.70 109.52,115.33 110.25,113.87 110.98,112.32 111.70,110.69 112.43,108.96 113.16,107.15 113.89,105.26 114.61,103.29 115.34,101.24 116.07,99.12 116.80,96.94 117.52,94.71 118.25,92.43 118.98,90.11 119.70,87.77 120.43,85.42 121.16,83.07 121.89,80.72 122.62,78.40 123.34,76.10 124.07,73.85 124.80,71.65 125.53,69.50 126.25,67.42 126.98,65.42 127.71,63.49 128.44,61.65 129.16,59.89 129.89,58.22 130.62,56.64 131.34,55.14 132.07,53.74 132.80,52.42 133.53,51.19 134.25,50.04 134.98,48.96 135.71,47.97 136.44,47.04 137.17,46.19 137.89,45.40 138.62,44.67 139.35,43.99 140.07,43.38 140.80,42.81 141.53,42.29" class="sol"/></g>
<text x="103.3" y="28.3" class="an" text-anchor="start">Triple</text>
<path d="M136.20 23.70L138.62 28.59" class="arl"/><path d="M140.30 32.00L136.16 28.69L138.26 27.88L140.19 26.70Z" class="arh"/>
<path d="M149.20 23.70L146.44 28.68" class="arl"/><path d="M144.60 32.00L144.96 26.71L146.83 27.98L148.89 28.89Z" class="arh"/>
<text x="148.8" y="28.3" class="an" text-anchor="start">Triple+CaCl<tspan class="sub" dy="3" dx="1">2</tspan></text>
<text x="66.0" y="66.8" class="sm" text-anchor="start">A2VicCC</text>
<text x="173.5" y="67" class="sm" text-anchor="start">A2VicCC+CaCl<tspan class="sub" dy="3" dx="1">2</tspan></text>
</g>
</svg>
</body></html>
